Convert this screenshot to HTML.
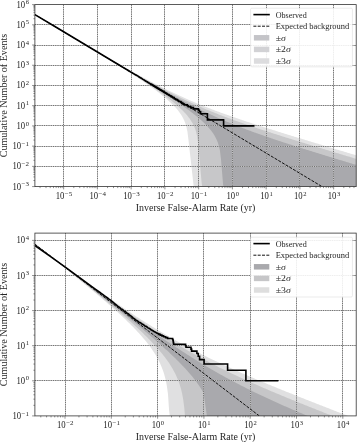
<!DOCTYPE html>
<html><head><meta charset="utf-8"><title>Cumulative Number of Events</title>
<style>html,body{margin:0;padding:0;background:#fff}svg{display:block}</style></head>
<body>
<svg width="357" height="442" viewBox="0 0 357 442" font-family='Liberation Serif, DejaVu Serif, serif'>
<rect width="357" height="442" fill="#fff"/>
<clipPath id="clip1"><rect x="34.9" y="4.6" width="321.3" height="182"/></clipPath>
<g clip-path="url(#clip1)">
<path d="M33.9 13.92 L34.98 14.56 L36.06 15.21 L37.14 15.86 L38.23 16.5 L39.31 17.15 L40.39 17.79 L41.47 18.44 L42.55 19.08 L43.63 19.73 L44.71 20.37 L45.79 21.02 L46.88 21.66 L47.96 22.31 L49.04 22.95 L50.12 23.6 L51.2 24.24 L52.28 24.89 L53.36 25.53 L54.44 26.17 L55.53 26.82 L56.61 27.46 L57.69 28.1 L58.77 28.75 L59.85 29.39 L60.93 30.03 L62.01 30.68 L63.09 31.32 L64.18 31.96 L65.26 32.6 L66.34 33.25 L67.42 33.89 L68.5 34.53 L69.58 35.17 L70.66 35.81 L71.74 36.45 L72.83 37.09 L73.91 37.73 L74.99 38.37 L76.07 39.01 L77.15 39.65 L78.23 40.29 L79.31 40.93 L80.39 41.57 L81.48 42.21 L82.56 42.85 L83.64 43.48 L84.72 44.12 L85.8 44.76 L86.88 45.39 L87.96 46.03 L89.04 46.67 L90.13 47.3 L91.21 47.94 L92.29 48.57 L93.37 49.2 L94.45 49.84 L95.53 50.47 L96.61 51.1 L97.69 51.73 L98.78 52.36 L99.86 53 L100.94 53.62 L102.02 54.25 L103.1 54.88 L104.18 55.51 L105.26 56.14 L106.35 56.76 L107.43 57.39 L108.51 58.01 L109.59 58.64 L110.67 59.26 L111.75 59.88 L112.83 60.51 L113.91 61.13 L115 61.75 L116.08 62.36 L117.16 62.98 L118.24 63.6 L119.32 64.21 L120.4 64.83 L121.48 65.44 L122.56 66.06 L123.65 66.67 L124.73 67.28 L125.81 67.89 L126.89 68.49 L127.97 69.1 L129.05 69.7 L130.13 70.31 L131.21 70.91 L132.3 71.51 L133.38 72.11 L134.46 72.71 L135.54 73.3 L136.62 73.89 L137.7 74.49 L138.78 75.08 L139.86 75.67 L140.95 76.25 L142.03 76.84 L143.11 77.42 L144.19 78 L145.27 78.58 L146.35 79.16 L147.43 79.74 L148.51 80.31 L149.6 80.88 L150.68 81.45 L151.76 82.02 L152.84 82.58 L153.92 83.14 L155 83.7 L156.08 84.26 L157.16 84.82 L158.25 85.37 L159.33 85.92 L160.41 86.47 L161.49 87.01 L162.57 87.56 L163.65 88.1 L164.73 88.63 L165.82 89.17 L166.9 89.7 L167.98 90.23 L169.06 90.75 L170.14 91.28 L171.22 91.8 L172.3 92.32 L173.38 92.83 L174.47 93.34 L175.55 93.85 L176.63 94.36 L177.71 94.86 L178.79 95.36 L179.87 95.86 L180.95 96.35 L182.03 96.84 L183.12 97.33 L184.2 97.82 L185.28 98.3 L186.36 98.78 L187.44 99.26 L188.52 99.73 L189.6 100.2 L190.68 100.67 L191.77 101.13 L192.85 101.59 L193.93 102.05 L195.01 102.51 L196.09 102.96 L197.17 103.41 L198.25 103.86 L199.33 104.3 L200.42 104.74 L201.5 105.18 L202.58 105.62 L203.66 106.05 L204.74 106.48 L205.82 106.91 L206.9 107.34 L207.98 107.76 L209.07 108.18 L210.15 108.6 L211.23 109.01 L212.31 109.43 L213.39 109.84 L214.47 110.25 L215.55 110.65 L216.63 111.06 L217.72 111.46 L218.8 111.86 L219.88 112.26 L220.96 112.65 L222.04 113.04 L223.12 113.44 L224.2 113.83 L225.28 114.21 L226.37 114.6 L227.45 114.98 L228.53 115.36 L229.61 115.74 L230.69 116.12 L231.77 116.5 L232.85 116.88 L233.94 117.25 L235.02 117.62 L236.1 117.99 L237.18 118.36 L238.26 118.73 L239.34 119.1 L240.42 119.46 L241.5 119.82 L242.59 120.19 L243.67 120.55 L244.75 120.91 L245.83 121.27 L246.91 121.63 L247.99 121.98 L249.07 122.34 L250.15 122.69 L251.24 123.05 L252.32 123.4 L253.4 123.75 L254.48 124.1 L255.56 124.45 L256.64 124.8 L257.72 125.15 L258.8 125.5 L259.89 125.84 L260.97 126.19 L262.05 126.53 L263.13 126.88 L264.21 127.22 L265.29 127.56 L266.37 127.91 L267.45 128.25 L268.54 128.59 L269.62 128.93 L270.7 129.27 L271.78 129.61 L272.86 129.95 L273.94 130.29 L275.02 130.62 L276.1 130.96 L277.19 131.3 L278.27 131.63 L279.35 131.97 L280.43 132.31 L281.51 132.64 L282.59 132.97 L283.67 133.31 L284.75 133.64 L285.84 133.98 L286.92 134.31 L288 134.64 L289.08 134.98 L290.16 135.31 L291.24 135.64 L292.32 135.97 L293.41 136.3 L294.49 136.63 L295.57 136.97 L296.65 137.3 L297.73 137.63 L298.81 137.96 L299.89 138.29 L300.97 138.62 L302.06 138.95 L303.14 139.28 L304.22 139.6 L305.3 139.93 L306.38 140.26 L307.46 140.59 L308.54 140.92 L309.62 141.25 L310.71 141.58 L311.79 141.9 L312.87 142.23 L313.95 142.56 L315.03 142.89 L316.11 143.21 L317.19 143.54 L318.27 143.87 L319.36 144.2 L320.44 144.52 L321.52 144.85 L322.6 145.18 L323.68 145.5 L324.76 145.83 L325.84 146.16 L326.92 146.48 L328.01 146.81 L329.09 147.14 L330.17 147.46 L331.25 147.79 L332.33 148.11 L333.41 148.44 L334.49 148.76 L335.57 149.09 L336.66 149.42 L337.74 149.74 L338.82 150.07 L339.9 150.39 L340.98 150.72 L342.06 151.04 L343.14 151.37 L344.22 151.69 L345.31 152.02 L346.39 152.34 L347.47 152.67 L348.55 152.99 L349.63 153.32 L350.71 153.64 L351.79 153.97 L352.87 154.29 L353.96 154.62 L355.04 154.94 L356.12 155.27 L357.2 155.59 L357.2 189.6 L356.12 189.6 L355.04 189.6 L353.96 189.6 L352.87 189.6 L351.79 189.6 L350.71 189.6 L349.63 189.6 L348.55 189.6 L347.47 189.6 L346.39 189.6 L345.31 189.6 L344.22 189.6 L343.14 189.6 L342.06 189.6 L340.98 189.6 L339.9 189.6 L338.82 189.6 L337.74 189.6 L336.66 189.6 L335.57 189.6 L334.49 189.6 L333.41 189.6 L332.33 189.6 L331.25 189.6 L330.17 189.6 L329.09 189.6 L328.01 189.6 L326.92 189.6 L325.84 189.6 L324.76 189.6 L323.68 189.6 L322.6 189.6 L321.52 189.6 L320.44 189.6 L319.36 189.6 L318.27 189.6 L317.19 189.6 L316.11 189.6 L315.03 189.6 L313.95 189.6 L312.87 189.6 L311.79 189.6 L310.71 189.6 L309.62 189.6 L308.54 189.6 L307.46 189.6 L306.38 189.6 L305.3 189.6 L304.22 189.6 L303.14 189.6 L302.06 189.6 L300.97 189.6 L299.89 189.6 L298.81 189.6 L297.73 189.6 L296.65 189.6 L295.57 189.6 L294.49 189.6 L293.41 189.6 L292.32 189.6 L291.24 189.6 L290.16 189.6 L289.08 189.6 L288 189.6 L286.92 189.6 L285.84 189.6 L284.75 189.6 L283.67 189.6 L282.59 189.6 L281.51 189.6 L280.43 189.6 L279.35 189.6 L278.27 189.6 L277.19 189.6 L276.1 189.6 L275.02 189.6 L273.94 189.6 L272.86 189.6 L271.78 189.6 L270.7 189.6 L269.62 189.6 L268.54 189.6 L267.45 189.6 L266.37 189.6 L265.29 189.6 L264.21 189.6 L263.13 189.6 L262.05 189.6 L260.97 189.6 L259.89 189.6 L258.8 189.6 L257.72 189.6 L256.64 189.6 L255.56 189.6 L254.48 189.6 L253.4 189.6 L252.32 189.6 L251.24 189.6 L250.15 189.6 L249.07 189.6 L247.99 189.6 L246.91 189.6 L245.83 189.6 L244.75 189.6 L243.67 189.6 L242.59 189.6 L241.5 189.6 L240.42 189.6 L239.34 189.6 L238.26 189.6 L237.18 189.6 L236.1 189.6 L235.02 189.6 L233.94 189.6 L232.85 189.6 L231.77 189.6 L230.69 189.6 L229.61 189.6 L228.53 189.6 L227.45 189.6 L226.37 189.6 L225.28 189.6 L224.2 189.6 L223.12 189.6 L222.04 189.6 L220.96 189.6 L219.88 189.6 L218.8 189.6 L217.72 189.6 L216.63 189.6 L215.55 189.6 L214.47 189.6 L213.39 189.6 L212.31 189.6 L211.23 189.6 L210.15 189.6 L209.07 189.6 L207.98 189.6 L206.9 189.6 L205.82 189.6 L204.74 189.6 L203.66 189.6 L202.58 189.6 L201.5 189.6 L200.42 189.6 L199.33 189.6 L198.25 189.6 L197.17 189.6 L196.09 189.6 L195.01 189.6 L193.93 189.02 L192.85 179.3 L191.77 169.58 L190.68 159.87 L189.6 150.15 L188.52 140.43 L187.44 131.72 L186.36 126.71 L185.28 123.24 L184.2 120.54 L183.12 118.28 L182.03 116.32 L180.95 114.56 L179.87 112.97 L178.79 111.49 L177.71 110.12 L176.63 108.82 L175.55 107.59 L174.47 106.41 L173.38 105.29 L172.3 104.2 L171.22 103.15 L170.14 102.13 L169.06 101.14 L167.98 100.17 L166.9 99.22 L165.82 98.3 L164.73 97.39 L163.65 96.5 L162.57 95.63 L161.49 94.76 L160.41 93.91 L159.33 93.08 L158.25 92.25 L157.16 91.43 L156.08 90.62 L155 89.82 L153.92 89.03 L152.84 88.25 L151.76 87.47 L150.68 86.7 L149.6 85.94 L148.51 85.18 L147.43 84.42 L146.35 83.67 L145.27 82.93 L144.19 82.19 L143.11 81.46 L142.03 80.72 L140.95 80 L139.86 79.27 L138.78 78.55 L137.7 77.84 L136.62 77.12 L135.54 76.41 L134.46 75.7 L133.38 74.99 L132.3 74.29 L131.21 73.59 L130.13 72.89 L129.05 72.19 L127.97 71.5 L126.89 70.81 L125.81 70.11 L124.73 69.43 L123.65 68.74 L122.56 68.05 L121.48 67.37 L120.4 66.68 L119.32 66 L118.24 65.32 L117.16 64.64 L116.08 63.97 L115 63.29 L113.91 62.61 L112.83 61.94 L111.75 61.27 L110.67 60.59 L109.59 59.92 L108.51 59.25 L107.43 58.58 L106.35 57.91 L105.26 57.25 L104.18 56.58 L103.1 55.91 L102.02 55.25 L100.94 54.58 L99.86 53.92 L98.78 53.25 L97.69 52.59 L96.61 51.93 L95.53 51.27 L94.45 50.6 L93.37 49.94 L92.29 49.28 L91.21 48.62 L90.13 47.96 L89.04 47.3 L87.96 46.65 L86.88 45.99 L85.8 45.33 L84.72 44.67 L83.64 44.02 L82.56 43.36 L81.48 42.7 L80.39 42.05 L79.31 41.39 L78.23 40.73 L77.15 40.08 L76.07 39.42 L74.99 38.77 L73.91 38.12 L72.83 37.46 L71.74 36.81 L70.66 36.15 L69.58 35.5 L68.5 34.85 L67.42 34.19 L66.34 33.54 L65.26 32.89 L64.18 32.24 L63.09 31.58 L62.01 30.93 L60.93 30.28 L59.85 29.63 L58.77 28.98 L57.69 28.32 L56.61 27.67 L55.53 27.02 L54.44 26.37 L53.36 25.72 L52.28 25.07 L51.2 24.42 L50.12 23.77 L49.04 23.12 L47.96 22.47 L46.88 21.81 L45.79 21.16 L44.71 20.51 L43.63 19.86 L42.55 19.21 L41.47 18.56 L40.39 17.91 L39.31 17.26 L38.23 16.61 L37.14 15.97 L36.06 15.32 L34.98 14.67 L33.9 14.02 Z" fill="#00000c" fill-opacity="0.115"/>
<path d="M33.9 13.94 L34.98 14.58 L36.06 15.23 L37.14 15.88 L38.23 16.52 L39.31 17.17 L40.39 17.81 L41.47 18.46 L42.55 19.11 L43.63 19.75 L44.71 20.4 L45.79 21.04 L46.88 21.69 L47.96 22.34 L49.04 22.98 L50.12 23.63 L51.2 24.27 L52.28 24.92 L53.36 25.56 L54.44 26.21 L55.53 26.85 L56.61 27.5 L57.69 28.14 L58.77 28.79 L59.85 29.43 L60.93 30.08 L62.01 30.72 L63.09 31.37 L64.18 32.01 L65.26 32.66 L66.34 33.3 L67.42 33.94 L68.5 34.59 L69.58 35.23 L70.66 35.87 L71.74 36.52 L72.83 37.16 L73.91 37.8 L74.99 38.45 L76.07 39.09 L77.15 39.73 L78.23 40.37 L79.31 41.01 L80.39 41.66 L81.48 42.3 L82.56 42.94 L83.64 43.58 L84.72 44.22 L85.8 44.86 L86.88 45.5 L87.96 46.14 L89.04 46.78 L90.13 47.42 L91.21 48.06 L92.29 48.7 L93.37 49.33 L94.45 49.97 L95.53 50.61 L96.61 51.25 L97.69 51.88 L98.78 52.52 L99.86 53.16 L100.94 53.79 L102.02 54.43 L103.1 55.06 L104.18 55.7 L105.26 56.33 L106.35 56.96 L107.43 57.6 L108.51 58.23 L109.59 58.86 L110.67 59.49 L111.75 60.12 L112.83 60.75 L113.91 61.38 L115 62.01 L116.08 62.64 L117.16 63.26 L118.24 63.89 L119.32 64.52 L120.4 65.14 L121.48 65.76 L122.56 66.39 L123.65 67.01 L124.73 67.63 L125.81 68.25 L126.89 68.87 L127.97 69.49 L129.05 70.11 L130.13 70.72 L131.21 71.34 L132.3 71.96 L133.38 72.57 L134.46 73.18 L135.54 73.79 L136.62 74.4 L137.7 75.01 L138.78 75.62 L139.86 76.22 L140.95 76.83 L142.03 77.43 L143.11 78.03 L144.19 78.63 L145.27 79.23 L146.35 79.83 L147.43 80.43 L148.51 81.02 L149.6 81.61 L150.68 82.2 L151.76 82.79 L152.84 83.38 L153.92 83.96 L155 84.55 L156.08 85.13 L157.16 85.71 L158.25 86.29 L159.33 86.86 L160.41 87.44 L161.49 88.01 L162.57 88.58 L163.65 89.14 L164.73 89.71 L165.82 90.27 L166.9 90.83 L167.98 91.39 L169.06 91.94 L170.14 92.5 L171.22 93.05 L172.3 93.59 L173.38 94.14 L174.47 94.68 L175.55 95.22 L176.63 95.76 L177.71 96.29 L178.79 96.82 L179.87 97.35 L180.95 97.88 L182.03 98.4 L183.12 98.92 L184.2 99.44 L185.28 99.96 L186.36 100.47 L187.44 100.98 L188.52 101.48 L189.6 101.99 L190.68 102.49 L191.77 102.98 L192.85 103.48 L193.93 103.97 L195.01 104.46 L196.09 104.94 L197.17 105.42 L198.25 105.9 L199.33 106.38 L200.42 106.85 L201.5 107.32 L202.58 107.79 L203.66 108.26 L204.74 108.72 L205.82 109.18 L206.9 109.63 L207.98 110.08 L209.07 110.53 L210.15 110.98 L211.23 111.43 L212.31 111.87 L213.39 112.31 L214.47 112.74 L215.55 113.18 L216.63 113.61 L217.72 114.04 L218.8 114.46 L219.88 114.88 L220.96 115.3 L222.04 115.72 L223.12 116.14 L224.2 116.55 L225.28 116.96 L226.37 117.37 L227.45 117.78 L228.53 118.18 L229.61 118.58 L230.69 118.98 L231.77 119.38 L232.85 119.77 L233.94 120.17 L235.02 120.56 L236.1 120.95 L237.18 121.34 L238.26 121.72 L239.34 122.11 L240.42 122.49 L241.5 122.87 L242.59 123.25 L243.67 123.62 L244.75 124 L245.83 124.37 L246.91 124.75 L247.99 125.12 L249.07 125.49 L250.15 125.85 L251.24 126.22 L252.32 126.58 L253.4 126.95 L254.48 127.31 L255.56 127.67 L256.64 128.03 L257.72 128.39 L258.8 128.75 L259.89 129.11 L260.97 129.46 L262.05 129.82 L263.13 130.17 L264.21 130.52 L265.29 130.87 L266.37 131.22 L267.45 131.57 L268.54 131.92 L269.62 132.27 L270.7 132.62 L271.78 132.97 L272.86 133.31 L273.94 133.66 L275.02 134 L276.1 134.34 L277.19 134.69 L278.27 135.03 L279.35 135.37 L280.43 135.71 L281.51 136.05 L282.59 136.39 L283.67 136.73 L284.75 137.07 L285.84 137.41 L286.92 137.75 L288 138.08 L289.08 138.42 L290.16 138.76 L291.24 139.09 L292.32 139.43 L293.41 139.76 L294.49 140.1 L295.57 140.43 L296.65 140.77 L297.73 141.1 L298.81 141.43 L299.89 141.77 L300.97 142.1 L302.06 142.43 L303.14 142.76 L304.22 143.1 L305.3 143.43 L306.38 143.76 L307.46 144.09 L308.54 144.42 L309.62 144.75 L310.71 145.08 L311.79 145.41 L312.87 145.74 L313.95 146.07 L315.03 146.4 L316.11 146.73 L317.19 147.06 L318.27 147.39 L319.36 147.71 L320.44 148.04 L321.52 148.37 L322.6 148.7 L323.68 149.03 L324.76 149.36 L325.84 149.68 L326.92 150.01 L328.01 150.34 L329.09 150.67 L330.17 150.99 L331.25 151.32 L332.33 151.65 L333.41 151.97 L334.49 152.3 L335.57 152.63 L336.66 152.95 L337.74 153.28 L338.82 153.61 L339.9 153.93 L340.98 154.26 L342.06 154.58 L343.14 154.91 L344.22 155.24 L345.31 155.56 L346.39 155.89 L347.47 156.21 L348.55 156.54 L349.63 156.87 L350.71 157.19 L351.79 157.52 L352.87 157.84 L353.96 158.17 L355.04 158.49 L356.12 158.82 L357.2 159.14 L357.2 189.6 L356.12 189.6 L355.04 189.6 L353.96 189.6 L352.87 189.6 L351.79 189.6 L350.71 189.6 L349.63 189.6 L348.55 189.6 L347.47 189.6 L346.39 189.6 L345.31 189.6 L344.22 189.6 L343.14 189.6 L342.06 189.6 L340.98 189.6 L339.9 189.6 L338.82 189.6 L337.74 189.6 L336.66 189.6 L335.57 189.6 L334.49 189.6 L333.41 189.6 L332.33 189.6 L331.25 189.6 L330.17 189.6 L329.09 189.6 L328.01 189.6 L326.92 189.6 L325.84 189.6 L324.76 189.6 L323.68 189.6 L322.6 189.6 L321.52 189.6 L320.44 189.6 L319.36 189.6 L318.27 189.6 L317.19 189.6 L316.11 189.6 L315.03 189.6 L313.95 189.6 L312.87 189.6 L311.79 189.6 L310.71 189.6 L309.62 189.6 L308.54 189.6 L307.46 189.6 L306.38 189.6 L305.3 189.6 L304.22 189.6 L303.14 189.6 L302.06 189.6 L300.97 189.6 L299.89 189.6 L298.81 189.6 L297.73 189.6 L296.65 189.6 L295.57 189.6 L294.49 189.6 L293.41 189.6 L292.32 189.6 L291.24 189.6 L290.16 189.6 L289.08 189.6 L288 189.6 L286.92 189.6 L285.84 189.6 L284.75 189.6 L283.67 189.6 L282.59 189.6 L281.51 189.6 L280.43 189.6 L279.35 189.6 L278.27 189.6 L277.19 189.6 L276.1 189.6 L275.02 189.6 L273.94 189.6 L272.86 189.6 L271.78 189.6 L270.7 189.6 L269.62 189.6 L268.54 189.6 L267.45 189.6 L266.37 189.6 L265.29 189.6 L264.21 189.6 L263.13 189.6 L262.05 189.6 L260.97 189.6 L259.89 189.6 L258.8 189.6 L257.72 189.6 L256.64 189.6 L255.56 189.6 L254.48 189.6 L253.4 189.6 L252.32 189.6 L251.24 189.6 L250.15 189.6 L249.07 189.6 L247.99 189.6 L246.91 189.6 L245.83 189.6 L244.75 189.6 L243.67 189.6 L242.59 189.6 L241.5 189.6 L240.42 189.6 L239.34 189.6 L238.26 189.6 L237.18 189.6 L236.1 189.6 L235.02 189.6 L233.94 189.6 L232.85 189.6 L231.77 189.6 L230.69 189.6 L229.61 189.6 L228.53 189.6 L227.45 189.6 L226.37 189.6 L225.28 189.6 L224.2 189.6 L223.12 189.6 L222.04 189.6 L220.96 189.6 L219.88 189.6 L218.8 189.6 L217.72 189.6 L216.63 189.6 L215.55 189.6 L214.47 189.6 L213.39 189.6 L212.31 189.6 L211.23 189.6 L210.15 189.6 L209.07 189.6 L207.98 189.6 L206.9 189.6 L205.82 189.6 L204.74 189.6 L203.66 189.6 L202.58 189.6 L201.5 181.61 L200.42 169.3 L199.33 156.99 L198.25 144.69 L197.17 136.4 L196.09 131.84 L195.01 128.58 L193.93 125.99 L192.85 123.81 L191.77 121.89 L190.68 120.18 L189.6 118.61 L188.52 117.16 L187.44 115.8 L186.36 114.52 L185.28 113.3 L184.2 112.14 L183.12 111.02 L182.03 109.94 L180.95 108.9 L179.87 107.88 L178.79 106.9 L177.71 105.93 L176.63 104.99 L175.55 104.07 L174.47 103.17 L173.38 102.28 L172.3 101.41 L171.22 100.55 L170.14 99.7 L169.06 98.87 L167.98 98.04 L166.9 97.23 L165.82 96.42 L164.73 95.62 L163.65 94.83 L162.57 94.05 L161.49 93.27 L160.41 92.51 L159.33 91.74 L158.25 90.98 L157.16 90.23 L156.08 89.48 L155 88.74 L153.92 88 L152.84 87.27 L151.76 86.54 L150.68 85.81 L149.6 85.09 L148.51 84.37 L147.43 83.65 L146.35 82.94 L145.27 82.23 L144.19 81.52 L143.11 80.81 L142.03 80.11 L140.95 79.41 L139.86 78.71 L138.78 78.01 L137.7 77.32 L136.62 76.63 L135.54 75.94 L134.46 75.25 L133.38 74.56 L132.3 73.87 L131.21 73.19 L130.13 72.51 L129.05 71.83 L127.97 71.15 L126.89 70.47 L125.81 69.79 L124.73 69.11 L123.65 68.44 L122.56 67.76 L121.48 67.09 L120.4 66.42 L119.32 65.75 L118.24 65.08 L117.16 64.41 L116.08 63.74 L115 63.07 L113.91 62.41 L112.83 61.74 L111.75 61.07 L110.67 60.41 L109.59 59.74 L108.51 59.08 L107.43 58.42 L106.35 57.76 L105.26 57.09 L104.18 56.43 L103.1 55.77 L102.02 55.11 L100.94 54.45 L99.86 53.79 L98.78 53.13 L97.69 52.47 L96.61 51.82 L95.53 51.16 L94.45 50.5 L93.37 49.84 L92.29 49.19 L91.21 48.53 L90.13 47.87 L89.04 47.22 L87.96 46.56 L86.88 45.91 L85.8 45.25 L84.72 44.6 L83.64 43.94 L82.56 43.29 L81.48 42.64 L80.39 41.98 L79.31 41.33 L78.23 40.68 L77.15 40.02 L76.07 39.37 L74.99 38.72 L73.91 38.06 L72.83 37.41 L71.74 36.76 L70.66 36.11 L69.58 35.46 L68.5 34.8 L67.42 34.15 L66.34 33.5 L65.26 32.85 L64.18 32.2 L63.09 31.55 L62.01 30.9 L60.93 30.25 L59.85 29.6 L58.77 28.95 L57.69 28.3 L56.61 27.64 L55.53 26.99 L54.44 26.34 L53.36 25.69 L52.28 25.04 L51.2 24.39 L50.12 23.74 L49.04 23.09 L47.96 22.44 L46.88 21.8 L45.79 21.15 L44.71 20.5 L43.63 19.85 L42.55 19.2 L41.47 18.55 L40.39 17.9 L39.31 17.25 L38.23 16.6 L37.14 15.95 L36.06 15.3 L34.98 14.65 L33.9 14 Z" fill="#00000c" fill-opacity="0.118"/>
<path d="M33.9 13.95 L34.98 14.6 L36.06 15.25 L37.14 15.9 L38.23 16.54 L39.31 17.19 L40.39 17.84 L41.47 18.48 L42.55 19.13 L43.63 19.78 L44.71 20.42 L45.79 21.07 L46.88 21.72 L47.96 22.37 L49.04 23.01 L50.12 23.66 L51.2 24.31 L52.28 24.95 L53.36 25.6 L54.44 26.24 L55.53 26.89 L56.61 27.54 L57.69 28.18 L58.77 28.83 L59.85 29.48 L60.93 30.12 L62.01 30.77 L63.09 31.41 L64.18 32.06 L65.26 32.71 L66.34 33.35 L67.42 34 L68.5 34.64 L69.58 35.29 L70.66 35.94 L71.74 36.58 L72.83 37.23 L73.91 37.87 L74.99 38.52 L76.07 39.16 L77.15 39.81 L78.23 40.45 L79.31 41.1 L80.39 41.74 L81.48 42.39 L82.56 43.03 L83.64 43.67 L84.72 44.32 L85.8 44.96 L86.88 45.61 L87.96 46.25 L89.04 46.89 L90.13 47.54 L91.21 48.18 L92.29 48.82 L93.37 49.47 L94.45 50.11 L95.53 50.75 L96.61 51.39 L97.69 52.04 L98.78 52.68 L99.86 53.32 L100.94 53.96 L102.02 54.6 L103.1 55.24 L104.18 55.89 L105.26 56.53 L106.35 57.17 L107.43 57.81 L108.51 58.45 L109.59 59.09 L110.67 59.73 L111.75 60.36 L112.83 61 L113.91 61.64 L115 62.28 L116.08 62.92 L117.16 63.55 L118.24 64.19 L119.32 64.83 L120.4 65.46 L121.48 66.1 L122.56 66.73 L123.65 67.37 L124.73 68 L125.81 68.64 L126.89 69.27 L127.97 69.9 L129.05 70.53 L130.13 71.16 L131.21 71.8 L132.3 72.43 L133.38 73.06 L134.46 73.68 L135.54 74.31 L136.62 74.94 L137.7 75.57 L138.78 76.19 L139.86 76.82 L140.95 77.44 L142.03 78.07 L143.11 78.69 L144.19 79.31 L145.27 79.93 L146.35 80.55 L147.43 81.17 L148.51 81.79 L149.6 82.41 L150.68 83.03 L151.76 83.64 L152.84 84.26 L153.92 84.87 L155 85.48 L156.08 86.09 L157.16 86.7 L158.25 87.31 L159.33 87.92 L160.41 88.52 L161.49 89.13 L162.57 89.73 L163.65 90.33 L164.73 90.93 L165.82 91.53 L166.9 92.13 L167.98 92.72 L169.06 93.32 L170.14 93.91 L171.22 94.5 L172.3 95.09 L173.38 95.67 L174.47 96.26 L175.55 96.84 L176.63 97.42 L177.71 98 L178.79 98.58 L179.87 99.16 L180.95 99.73 L182.03 100.3 L183.12 100.87 L184.2 101.43 L185.28 102 L186.36 102.56 L187.44 103.12 L188.52 103.68 L189.6 104.23 L190.68 104.78 L191.77 105.33 L192.85 105.88 L193.93 106.42 L195.01 106.97 L196.09 107.51 L197.17 108.04 L198.25 108.58 L199.33 109.11 L200.42 109.64 L201.5 110.16 L202.58 110.68 L203.66 111.2 L204.74 111.72 L205.82 112.24 L206.9 112.75 L207.98 113.26 L209.07 113.76 L210.15 114.26 L211.23 114.76 L212.31 115.26 L213.39 115.75 L214.47 116.24 L215.55 116.73 L216.63 117.22 L217.72 117.7 L218.8 118.18 L219.88 118.65 L220.96 119.13 L222.04 119.59 L223.12 120.06 L224.2 120.53 L225.28 120.99 L226.37 121.44 L227.45 121.9 L228.53 122.35 L229.61 122.8 L230.69 123.25 L231.77 123.69 L232.85 124.13 L233.94 124.57 L235.02 125.01 L236.1 125.44 L237.18 125.87 L238.26 126.3 L239.34 126.72 L240.42 127.15 L241.5 127.56 L242.59 127.98 L243.67 128.4 L244.75 128.81 L245.83 129.22 L246.91 129.63 L247.99 130.03 L249.07 130.44 L250.15 130.84 L251.24 131.24 L252.32 131.64 L253.4 132.03 L254.48 132.42 L255.56 132.81 L256.64 133.2 L257.72 133.59 L258.8 133.98 L259.89 134.36 L260.97 134.74 L262.05 135.12 L263.13 135.5 L264.21 135.88 L265.29 136.25 L266.37 136.62 L267.45 137 L268.54 137.37 L269.62 137.74 L270.7 138.1 L271.78 138.47 L272.86 138.83 L273.94 139.2 L275.02 139.56 L276.1 139.92 L277.19 140.28 L278.27 140.64 L279.35 141 L280.43 141.35 L281.51 141.71 L282.59 142.06 L283.67 142.42 L284.75 142.77 L285.84 143.12 L286.92 143.47 L288 143.82 L289.08 144.17 L290.16 144.52 L291.24 144.86 L292.32 145.21 L293.41 145.56 L294.49 145.9 L295.57 146.25 L296.65 146.59 L297.73 146.93 L298.81 147.27 L299.89 147.62 L300.97 147.96 L302.06 148.3 L303.14 148.64 L304.22 148.98 L305.3 149.31 L306.38 149.65 L307.46 149.99 L308.54 150.33 L309.62 150.66 L310.71 151 L311.79 151.34 L312.87 151.67 L313.95 152.01 L315.03 152.34 L316.11 152.68 L317.19 153.01 L318.27 153.34 L319.36 153.68 L320.44 154.01 L321.52 154.34 L322.6 154.67 L323.68 155.01 L324.76 155.34 L325.84 155.67 L326.92 156 L328.01 156.33 L329.09 156.66 L330.17 156.99 L331.25 157.32 L332.33 157.65 L333.41 157.98 L334.49 158.31 L335.57 158.64 L336.66 158.97 L337.74 159.3 L338.82 159.63 L339.9 159.96 L340.98 160.29 L342.06 160.61 L343.14 160.94 L344.22 161.27 L345.31 161.6 L346.39 161.92 L347.47 162.25 L348.55 162.58 L349.63 162.91 L350.71 163.23 L351.79 163.56 L352.87 163.89 L353.96 164.22 L355.04 164.54 L356.12 164.87 L357.2 165.19 L357.2 189.6 L356.12 189.6 L355.04 189.6 L353.96 189.6 L352.87 189.6 L351.79 189.6 L350.71 189.6 L349.63 189.6 L348.55 189.6 L347.47 189.6 L346.39 189.6 L345.31 189.6 L344.22 189.6 L343.14 189.6 L342.06 189.6 L340.98 189.6 L339.9 189.6 L338.82 189.6 L337.74 189.6 L336.66 189.6 L335.57 189.6 L334.49 189.6 L333.41 189.6 L332.33 189.6 L331.25 189.6 L330.17 189.6 L329.09 189.6 L328.01 189.6 L326.92 189.6 L325.84 189.6 L324.76 189.6 L323.68 189.6 L322.6 189.6 L321.52 189.6 L320.44 189.6 L319.36 189.6 L318.27 189.6 L317.19 189.6 L316.11 189.6 L315.03 189.6 L313.95 189.6 L312.87 189.6 L311.79 189.6 L310.71 189.6 L309.62 189.6 L308.54 189.6 L307.46 189.6 L306.38 189.6 L305.3 189.6 L304.22 189.6 L303.14 189.6 L302.06 189.6 L300.97 189.6 L299.89 189.6 L298.81 189.6 L297.73 189.6 L296.65 189.6 L295.57 189.6 L294.49 189.6 L293.41 189.6 L292.32 189.6 L291.24 189.6 L290.16 189.6 L289.08 189.6 L288 189.6 L286.92 189.6 L285.84 189.6 L284.75 189.6 L283.67 189.6 L282.59 189.6 L281.51 189.6 L280.43 189.6 L279.35 189.6 L278.27 189.6 L277.19 189.6 L276.1 189.6 L275.02 189.6 L273.94 189.6 L272.86 189.6 L271.78 189.6 L270.7 189.6 L269.62 189.6 L268.54 189.6 L267.45 189.6 L266.37 189.6 L265.29 189.6 L264.21 189.6 L263.13 189.6 L262.05 189.6 L260.97 189.6 L259.89 189.6 L258.8 189.6 L257.72 189.6 L256.64 189.6 L255.56 189.6 L254.48 189.6 L253.4 189.6 L252.32 189.6 L251.24 189.6 L250.15 189.6 L249.07 189.6 L247.99 189.6 L246.91 189.6 L245.83 189.6 L244.75 189.6 L243.67 189.6 L242.59 189.6 L241.5 189.6 L240.42 189.6 L239.34 189.6 L238.26 189.6 L237.18 189.6 L236.1 189.6 L235.02 189.6 L233.94 189.6 L232.85 189.6 L231.77 189.6 L230.69 189.6 L229.61 189.6 L228.53 189.6 L227.45 189.6 L226.37 189.6 L225.28 189.6 L224.2 189.6 L223.12 184.95 L222.04 171.99 L220.96 159.03 L219.88 150.31 L218.8 145.63 L217.72 142.32 L216.63 139.7 L215.55 137.49 L214.47 135.57 L213.39 133.84 L212.31 132.27 L211.23 130.81 L210.15 129.45 L209.07 128.16 L207.98 126.94 L206.9 125.77 L205.82 124.65 L204.74 123.57 L203.66 122.52 L202.58 121.51 L201.5 120.52 L200.42 119.56 L199.33 118.61 L198.25 117.69 L197.17 116.79 L196.09 115.9 L195.01 115.02 L193.93 114.17 L192.85 113.32 L191.77 112.48 L190.68 111.66 L189.6 110.84 L188.52 110.03 L187.44 109.24 L186.36 108.45 L185.28 107.66 L184.2 106.89 L183.12 106.12 L182.03 105.35 L180.95 104.59 L179.87 103.84 L178.79 103.09 L177.71 102.35 L176.63 101.61 L175.55 100.88 L174.47 100.15 L173.38 99.42 L172.3 98.7 L171.22 97.98 L170.14 97.26 L169.06 96.54 L167.98 95.83 L166.9 95.13 L165.82 94.42 L164.73 93.72 L163.65 93.02 L162.57 92.32 L161.49 91.62 L160.41 90.93 L159.33 90.23 L158.25 89.54 L157.16 88.85 L156.08 88.17 L155 87.48 L153.92 86.8 L152.84 86.11 L151.76 85.43 L150.68 84.75 L149.6 84.07 L148.51 83.4 L147.43 82.72 L146.35 82.04 L145.27 81.37 L144.19 80.7 L143.11 80.02 L142.03 79.35 L140.95 78.68 L139.86 78.01 L138.78 77.35 L137.7 76.68 L136.62 76.01 L135.54 75.34 L134.46 74.68 L133.38 74.01 L132.3 73.35 L131.21 72.69 L130.13 72.02 L129.05 71.36 L127.97 70.7 L126.89 70.04 L125.81 69.38 L124.73 68.72 L123.65 68.06 L122.56 67.4 L121.48 66.74 L120.4 66.08 L119.32 65.42 L118.24 64.76 L117.16 64.11 L116.08 63.45 L115 62.79 L113.91 62.14 L112.83 61.48 L111.75 60.82 L110.67 60.17 L109.59 59.51 L108.51 58.86 L107.43 58.2 L106.35 57.55 L105.26 56.89 L104.18 56.24 L103.1 55.59 L102.02 54.93 L100.94 54.28 L99.86 53.63 L98.78 52.97 L97.69 52.32 L96.61 51.67 L95.53 51.02 L94.45 50.36 L93.37 49.71 L92.29 49.06 L91.21 48.41 L90.13 47.76 L89.04 47.11 L87.96 46.45 L86.88 45.8 L85.8 45.15 L84.72 44.5 L83.64 43.85 L82.56 43.2 L81.48 42.55 L80.39 41.9 L79.31 41.25 L78.23 40.6 L77.15 39.95 L76.07 39.3 L74.99 38.65 L73.91 38 L72.83 37.35 L71.74 36.7 L70.66 36.05 L69.58 35.4 L68.5 34.75 L67.42 34.1 L66.34 33.45 L65.26 32.8 L64.18 32.15 L63.09 31.5 L62.01 30.85 L60.93 30.2 L59.85 29.55 L58.77 28.91 L57.69 28.26 L56.61 27.61 L55.53 26.96 L54.44 26.31 L53.36 25.66 L52.28 25.01 L51.2 24.36 L50.12 23.71 L49.04 23.07 L47.96 22.42 L46.88 21.77 L45.79 21.12 L44.71 20.47 L43.63 19.82 L42.55 19.17 L41.47 18.53 L40.39 17.88 L39.31 17.23 L38.23 16.58 L37.14 15.93 L36.06 15.28 L34.98 14.64 L33.9 13.99 Z" fill="#00000c" fill-opacity="0.15"/>
<path d="M63.5 4.6 V186.6 M97.5 4.6 V186.6 M131.5 4.6 V186.6 M164.5 4.6 V186.6 M198.5 4.6 V186.6 M232.5 4.6 V186.6 M266.5 4.6 V186.6 M299.5 4.6 V186.6 M333.5 4.6 V186.6 M34.9 166.5 H356.2 M34.9 146.5 H356.2 M34.9 125.5 H356.2 M34.9 105.5 H356.2 M34.9 85.5 H356.2 M34.9 65.5 H356.2 M34.9 45.5 H356.2 M34.9 24.5 H356.2" stroke="#d2d2d2" stroke-width="0.9" fill="none"/>
<path d="M63.5 4.6 V186.6 M97.5 4.6 V186.6 M131.5 4.6 V186.6 M164.5 4.6 V186.6 M198.5 4.6 V186.6 M232.5 4.6 V186.6 M266.5 4.6 V186.6 M299.5 4.6 V186.6 M333.5 4.6 V186.6 M34.9 166.5 H356.2 M34.9 146.5 H356.2 M34.9 125.5 H356.2 M34.9 105.5 H356.2 M34.9 85.5 H356.2 M34.9 65.5 H356.2 M34.9 45.5 H356.2 M34.9 24.5 H356.2" stroke="#606060" stroke-width="0.85" stroke-dasharray="1.25 1.0" fill="none"/>
<path d="M34.9 14.57 L356.2 207.07" stroke="#111" stroke-width="1.0" stroke-dasharray="3.0 1.3" fill="none"/>
<path d="M34.9 14.57 L54.9 26.55 L74.9 38.54 L94.9 50.52 L114.9 62.5 L120 65.56 L121.5 66.45 L123 67.35 L124.5 68.25 L126 69.15 L127.5 70.05 L129 70.95 L130.5 71.85 L132 72.75 L133.5 73.64 L135 74.54 L136.5 75.32 L138 76.09 L139.5 77.2 L141 77.95 L142.5 79.11 L144 79.86 L145.5 80.98 L147 81.73 L148.5 82.75 L150.43 83.88 L150.43 83.95 L150.56 83.95 L150.56 84.03 L150.71 84.03 L150.71 84.1 L150.92 84.1 L150.92 84.18 L150.93 84.18 L150.93 84.25 L151.26 84.25 L151.26 84.33 L151.42 84.33 L151.42 84.41 L151.65 84.41 L151.65 84.48 L151.71 84.48 L151.71 84.56 L151.74 84.56 L151.74 84.64 L151.76 84.64 L151.76 84.72 L151.77 84.72 L151.77 84.8 L152.1 84.8 L152.1 84.89 L152.25 84.89 L152.25 84.97 L152.49 84.97 L152.49 85.05 L152.63 85.05 L152.63 85.14 L152.7 85.14 L152.7 85.22 L152.82 85.22 L152.82 85.31 L152.95 85.31 L152.95 85.39 L153.15 85.39 L153.15 85.48 L153.17 85.48 L153.17 85.57 L153.51 85.57 L153.51 85.66 L153.55 85.66 L153.55 85.75 L153.57 85.75 L153.57 85.84 L153.88 85.84 L153.88 85.93 L154.11 85.93 L154.11 86.02 L154.12 86.02 L154.12 86.12 L154.28 86.12 L154.28 86.21 L154.5 86.21 L154.5 86.31 L154.75 86.31 L154.75 86.41 L154.76 86.41 L154.76 86.5 L154.81 86.5 L154.81 86.6 L155.22 86.6 L155.22 86.7 L155.37 86.7 L155.37 86.8 L155.42 86.8 L155.42 86.91 L155.6 86.91 L155.6 87.01 L155.82 87.01 L155.82 87.12 L156 87.12 L156 87.22 L156.12 87.22 L156.12 87.33 L156.37 87.33 L156.37 87.44 L156.39 87.44 L156.39 87.55 L156.98 87.55 L156.98 87.66 L157.05 87.66 L157.05 87.78 L157.06 87.78 L157.06 87.89 L157.16 87.89 L157.16 88.01 L157.25 88.01 L157.25 88.12 L157.78 88.12 L157.78 88.24 L157.86 88.24 L157.86 88.36 L158.02 88.36 L158.02 88.49 L158.26 88.49 L158.26 88.61 L158.62 88.61 L158.62 88.74 L158.77 88.74 L158.77 88.87 L158.99 88.87 L158.99 89 L159.04 89 L159.04 89.13 L159.15 89.13 L159.15 89.26 L159.74 89.26 L159.74 89.4 L159.8 89.4 L159.8 89.54 L159.87 89.54 L159.87 89.68 L160.42 89.68 L160.42 89.82 L160.46 89.82 L160.46 89.97 L160.66 89.97 L160.66 90.11 L161.17 90.11 L161.17 90.26 L161.28 90.26 L161.28 90.42 L161.39 90.42 L161.39 90.57 L161.75 90.57 L161.75 90.73 L161.87 90.73 L161.87 90.89 L162.38 90.89 L162.38 91.06 L162.79 91.06 L162.79 91.22 L162.79 91.22 L162.79 91.39 L162.86 91.39 L162.86 91.57 L163.57 91.57 L163.57 91.74 L163.86 91.74 L163.86 91.93 L164.02 91.93 L164.02 92.11 L164.27 92.11 L164.27 92.3 L164.29 92.3 L164.29 92.49 L165.29 92.49 L165.29 92.69 L165.39 92.69 L165.39 92.89 L165.64 92.89 L165.64 93.1 L165.73 93.1 L165.73 93.31 L166.25 93.31 L166.25 93.53 L166.94 93.53 L166.94 93.75 L166.99 93.75 L166.99 93.98 L167.09 93.98 L167.09 94.21 L167.63 94.21 L167.63 94.45 L168.63 94.45 L168.63 94.7 L168.69 94.7 L168.69 94.95 L169.11 94.95 L169.11 95.22 L169.5 95.22 L169.5 95.49 L169.59 95.49 L169.59 95.76 L170.68 95.76 L170.68 96.05 L171.02 96.05 L171.02 96.35 L171.11 96.35 L171.11 96.66 L171.99 96.66 L171.99 96.98 L172.51 96.98 L172.51 97.31 L172.81 97.31 L172.81 97.65 L174.18 97.65 L174.18 98.01 L174.25 98.01 L174.25 98.39 L174.31 98.39 L174.31 98.78 L175.38 98.78 L175.38 99.18 L176.02 99.18 L176.02 99.61 L177.13 99.61 L177.13 100.06 L177.7 100.06 L177.7 100.54 L178.37 100.54 L178.37 101.04 L178.68 101.04 L178.68 101.57 L180.63 101.57 L180.63 102.14 L181.41 102.14 L181.41 102.75 L181.84 102.75 L181.84 103.4 L183.17 103.4 L183.17 104.1 L184.33 104.1 L184.33 104.86 L187.33 104.86 L187.33 105.7 L188.29 105.7 L188.29 106.63 L190.75 106.63 L190.75 107.66 L193.4 107.66 L193.4 108.83 L198.4 108.83 L198.4 110.19 L199.4 110.19 L199.4 111.79 L200.6 111.79 L200.6 113.75 L207.4 113.75 L207.4 116.27 L207.4 116.27 L207.4 119.83 L223.6 119.83 L223.6 125.92 L254.5 125.92" stroke="#000" stroke-width="1.6" fill="none" stroke-linejoin="miter" stroke-linecap="butt"/>
</g>
<path d="M40.06 186.6 v1.5 M46 186.6 v1.5 M50.22 186.6 v1.5 M53.49 186.6 v1.5 M56.16 186.6 v1.5 M58.42 186.6 v1.5 M60.38 186.6 v1.5 M62.11 186.6 v1.5 M63.65 186.6 v2.8 M73.81 186.6 v1.5 M79.75 186.6 v1.5 M83.97 186.6 v1.5 M87.24 186.6 v1.5 M89.91 186.6 v1.5 M92.17 186.6 v1.5 M94.13 186.6 v1.5 M95.86 186.6 v1.5 M97.4 186.6 v2.8 M107.56 186.6 v1.5 M113.5 186.6 v1.5 M117.72 186.6 v1.5 M120.99 186.6 v1.5 M123.66 186.6 v1.5 M125.92 186.6 v1.5 M127.88 186.6 v1.5 M129.61 186.6 v1.5 M131.15 186.6 v2.8 M141.31 186.6 v1.5 M147.25 186.6 v1.5 M151.47 186.6 v1.5 M154.74 186.6 v1.5 M157.41 186.6 v1.5 M159.67 186.6 v1.5 M161.63 186.6 v1.5 M163.36 186.6 v1.5 M164.9 186.6 v2.8 M175.06 186.6 v1.5 M181 186.6 v1.5 M185.22 186.6 v1.5 M188.49 186.6 v1.5 M191.16 186.6 v1.5 M193.42 186.6 v1.5 M195.38 186.6 v1.5 M197.11 186.6 v1.5 M198.65 186.6 v2.8 M208.81 186.6 v1.5 M214.75 186.6 v1.5 M218.97 186.6 v1.5 M222.24 186.6 v1.5 M224.91 186.6 v1.5 M227.17 186.6 v1.5 M229.13 186.6 v1.5 M230.86 186.6 v1.5 M232.4 186.6 v2.8 M242.56 186.6 v1.5 M248.5 186.6 v1.5 M252.72 186.6 v1.5 M255.99 186.6 v1.5 M258.66 186.6 v1.5 M260.92 186.6 v1.5 M262.88 186.6 v1.5 M264.61 186.6 v1.5 M266.15 186.6 v2.8 M276.31 186.6 v1.5 M282.25 186.6 v1.5 M286.47 186.6 v1.5 M289.74 186.6 v1.5 M292.41 186.6 v1.5 M294.67 186.6 v1.5 M296.63 186.6 v1.5 M298.36 186.6 v1.5 M299.9 186.6 v2.8 M310.06 186.6 v1.5 M316 186.6 v1.5 M320.22 186.6 v1.5 M323.49 186.6 v1.5 M326.16 186.6 v1.5 M328.42 186.6 v1.5 M330.38 186.6 v1.5 M332.11 186.6 v1.5 M333.65 186.6 v2.8 M343.81 186.6 v1.5 M349.75 186.6 v1.5 M353.97 186.6 v1.5 M34.9 186.58 h-2.8 M34.9 180.49 h-1.5 M34.9 176.93 h-1.5 M34.9 174.41 h-1.5 M34.9 172.45 h-1.5 M34.9 170.85 h-1.5 M34.9 169.49 h-1.5 M34.9 168.32 h-1.5 M34.9 167.29 h-1.5 M34.9 166.36 h-2.8 M34.9 160.27 h-1.5 M34.9 156.71 h-1.5 M34.9 154.19 h-1.5 M34.9 152.23 h-1.5 M34.9 150.63 h-1.5 M34.9 149.27 h-1.5 M34.9 148.1 h-1.5 M34.9 147.07 h-1.5 M34.9 146.14 h-2.8 M34.9 140.05 h-1.5 M34.9 136.49 h-1.5 M34.9 133.97 h-1.5 M34.9 132.01 h-1.5 M34.9 130.41 h-1.5 M34.9 129.05 h-1.5 M34.9 127.88 h-1.5 M34.9 126.85 h-1.5 M34.9 125.92 h-2.8 M34.9 119.83 h-1.5 M34.9 116.27 h-1.5 M34.9 113.75 h-1.5 M34.9 111.79 h-1.5 M34.9 110.19 h-1.5 M34.9 108.83 h-1.5 M34.9 107.66 h-1.5 M34.9 106.63 h-1.5 M34.9 105.7 h-2.8 M34.9 99.61 h-1.5 M34.9 96.05 h-1.5 M34.9 93.53 h-1.5 M34.9 91.57 h-1.5 M34.9 89.97 h-1.5 M34.9 88.61 h-1.5 M34.9 87.44 h-1.5 M34.9 86.41 h-1.5 M34.9 85.48 h-2.8 M34.9 79.39 h-1.5 M34.9 75.83 h-1.5 M34.9 73.31 h-1.5 M34.9 71.35 h-1.5 M34.9 69.75 h-1.5 M34.9 68.39 h-1.5 M34.9 67.22 h-1.5 M34.9 66.19 h-1.5 M34.9 65.26 h-2.8 M34.9 59.17 h-1.5 M34.9 55.61 h-1.5 M34.9 53.09 h-1.5 M34.9 51.13 h-1.5 M34.9 49.53 h-1.5 M34.9 48.17 h-1.5 M34.9 47 h-1.5 M34.9 45.97 h-1.5 M34.9 45.04 h-2.8 M34.9 38.95 h-1.5 M34.9 35.39 h-1.5 M34.9 32.87 h-1.5 M34.9 30.91 h-1.5 M34.9 29.31 h-1.5 M34.9 27.95 h-1.5 M34.9 26.78 h-1.5 M34.9 25.75 h-1.5 M34.9 24.82 h-2.8 M34.9 18.73 h-1.5 M34.9 15.17 h-1.5 M34.9 12.65 h-1.5 M34.9 10.69 h-1.5 M34.9 9.09 h-1.5 M34.9 7.73 h-1.5 M34.9 6.56 h-1.5 M34.9 5.53 h-1.5 M34.9 4.6 h-2.8" stroke="#222" stroke-width="0.5" fill="none"/>
<rect x="34.9" y="4.6" width="321.3" height="182" fill="none" stroke="#333" stroke-width="0.8"/>
<g fill="#262626">
<text x="55.65" y="199.1" font-size="9.6" textLength="8.7" lengthAdjust="spacingAndGlyphs">10</text><text x="64.85" y="195.7" font-size="7.0" textLength="7.4" lengthAdjust="spacingAndGlyphs">−5</text>
<text x="89.4" y="199.1" font-size="9.6" textLength="8.7" lengthAdjust="spacingAndGlyphs">10</text><text x="98.6" y="195.7" font-size="7.0" textLength="7.4" lengthAdjust="spacingAndGlyphs">−4</text>
<text x="123.15" y="199.1" font-size="9.6" textLength="8.7" lengthAdjust="spacingAndGlyphs">10</text><text x="132.35" y="195.7" font-size="7.0" textLength="7.4" lengthAdjust="spacingAndGlyphs">−3</text>
<text x="156.9" y="199.1" font-size="9.6" textLength="8.7" lengthAdjust="spacingAndGlyphs">10</text><text x="166.1" y="195.7" font-size="7.0" textLength="7.4" lengthAdjust="spacingAndGlyphs">−2</text>
<text x="190.65" y="199.1" font-size="9.6" textLength="8.7" lengthAdjust="spacingAndGlyphs">10</text><text x="199.85" y="195.7" font-size="7.0" textLength="7.4" lengthAdjust="spacingAndGlyphs">−1</text>
<text x="226.45" y="199.1" font-size="9.6" textLength="8.7" lengthAdjust="spacingAndGlyphs">10</text><text x="235.65" y="195.7" font-size="7.0" textLength="3.3" lengthAdjust="spacingAndGlyphs">0</text>
<text x="260.2" y="199.1" font-size="9.6" textLength="8.7" lengthAdjust="spacingAndGlyphs">10</text><text x="269.4" y="195.7" font-size="7.0" textLength="3.3" lengthAdjust="spacingAndGlyphs">1</text>
<text x="293.95" y="199.1" font-size="9.6" textLength="8.7" lengthAdjust="spacingAndGlyphs">10</text><text x="303.15" y="195.7" font-size="7.0" textLength="3.3" lengthAdjust="spacingAndGlyphs">2</text>
<text x="327.7" y="199.1" font-size="9.6" textLength="8.7" lengthAdjust="spacingAndGlyphs">10</text><text x="336.9" y="195.7" font-size="7.0" textLength="3.3" lengthAdjust="spacingAndGlyphs">3</text>
<text x="12.4" y="189.58" font-size="9.6" textLength="8.7" lengthAdjust="spacingAndGlyphs">10</text><text x="21.6" y="186.18" font-size="7.0" textLength="7.4" lengthAdjust="spacingAndGlyphs">−3</text>
<text x="12.4" y="169.36" font-size="9.6" textLength="8.7" lengthAdjust="spacingAndGlyphs">10</text><text x="21.6" y="165.96" font-size="7.0" textLength="7.4" lengthAdjust="spacingAndGlyphs">−2</text>
<text x="12.4" y="149.14" font-size="9.6" textLength="8.7" lengthAdjust="spacingAndGlyphs">10</text><text x="21.6" y="145.74" font-size="7.0" textLength="7.4" lengthAdjust="spacingAndGlyphs">−1</text>
<text x="16.5" y="128.92" font-size="9.6" textLength="8.7" lengthAdjust="spacingAndGlyphs">10</text><text x="25.7" y="125.52" font-size="7.0" textLength="3.3" lengthAdjust="spacingAndGlyphs">0</text>
<text x="16.5" y="108.7" font-size="9.6" textLength="8.7" lengthAdjust="spacingAndGlyphs">10</text><text x="25.7" y="105.3" font-size="7.0" textLength="3.3" lengthAdjust="spacingAndGlyphs">1</text>
<text x="16.5" y="88.48" font-size="9.6" textLength="8.7" lengthAdjust="spacingAndGlyphs">10</text><text x="25.7" y="85.08" font-size="7.0" textLength="3.3" lengthAdjust="spacingAndGlyphs">2</text>
<text x="16.5" y="68.26" font-size="9.6" textLength="8.7" lengthAdjust="spacingAndGlyphs">10</text><text x="25.7" y="64.86" font-size="7.0" textLength="3.3" lengthAdjust="spacingAndGlyphs">3</text>
<text x="16.5" y="48.04" font-size="9.6" textLength="8.7" lengthAdjust="spacingAndGlyphs">10</text><text x="25.7" y="44.64" font-size="7.0" textLength="3.3" lengthAdjust="spacingAndGlyphs">4</text>
<text x="16.5" y="27.82" font-size="9.6" textLength="8.7" lengthAdjust="spacingAndGlyphs">10</text><text x="25.7" y="24.42" font-size="7.0" textLength="3.3" lengthAdjust="spacingAndGlyphs">5</text>
<text x="16.5" y="7.6" font-size="9.6" textLength="8.7" lengthAdjust="spacingAndGlyphs">10</text><text x="25.7" y="4.2" font-size="7.0" textLength="3.3" lengthAdjust="spacingAndGlyphs">6</text>
<text x="195.55" y="210.8" text-anchor="middle" font-size="10" textLength="119.6" lengthAdjust="spacingAndGlyphs">Inverse False-Alarm Rate (yr)</text>
<text transform="translate(7.2 95.6) rotate(-90)" text-anchor="middle" font-size="10" textLength="123.5" lengthAdjust="spacingAndGlyphs">Cumulative Number of Events</text>
</g>
<rect x="250.6" y="8.2" width="101.8" height="58.6" rx="1.2" fill="#fff" fill-opacity="0.88" stroke="#d4d4d4" stroke-width="0.5"/>
<path d="M253.4 14.6 H269.8" stroke="#000" stroke-width="1.6"/>
<path d="M253.4 26.2 H269.8" stroke="#111" stroke-width="1.0" stroke-dasharray="3.0 1.3"/>
<rect x="253.9" y="35.05" width="15.4" height="5.5" fill="#c4c4c8"/>
<rect x="253.9" y="46.65" width="15.4" height="5.5" fill="#d2d2d5"/>
<rect x="253.9" y="58.25" width="15.4" height="5.5" fill="#dcdcde"/>
<g fill="#262626" font-size="8.4">
<text x="275.7" y="17.5" textLength="31" lengthAdjust="spacingAndGlyphs">Observed</text>
<text x="275.7" y="29.1" textLength="73.6" lengthAdjust="spacingAndGlyphs">Expected background</text>
<text x="275.7" y="40.7" textLength="10.2" lengthAdjust="spacingAndGlyphs">±<tspan font-style="italic">σ</tspan></text>
<text x="275.7" y="52.3" textLength="15.2" lengthAdjust="spacingAndGlyphs">±2<tspan font-style="italic">σ</tspan></text>
<text x="275.7" y="63.9" textLength="15.2" lengthAdjust="spacingAndGlyphs">±3<tspan font-style="italic">σ</tspan></text>
</g>
<clipPath id="clip2"><rect x="34.9" y="233.1" width="321.3" height="182.8"/></clipPath>
<g clip-path="url(#clip2)">
<path d="M33.9 242.89 L34.98 243.7 L36.06 244.52 L37.14 245.33 L38.23 246.14 L39.31 246.96 L40.39 247.77 L41.47 248.58 L42.55 249.39 L43.63 250.21 L44.71 251.02 L45.79 251.83 L46.88 252.64 L47.96 253.45 L49.04 254.26 L50.12 255.07 L51.2 255.87 L52.28 256.68 L53.36 257.49 L54.44 258.3 L55.53 259.1 L56.61 259.91 L57.69 260.71 L58.77 261.52 L59.85 262.32 L60.93 263.13 L62.01 263.93 L63.09 264.73 L64.18 265.53 L65.26 266.33 L66.34 267.13 L67.42 267.93 L68.5 268.73 L69.58 269.53 L70.66 270.33 L71.74 271.12 L72.83 271.92 L73.91 272.71 L74.99 273.51 L76.07 274.3 L77.15 275.09 L78.23 275.89 L79.31 276.68 L80.39 277.47 L81.48 278.25 L82.56 279.04 L83.64 279.83 L84.72 280.61 L85.8 281.4 L86.88 282.18 L87.96 282.96 L89.04 283.75 L90.13 284.53 L91.21 285.31 L92.29 286.08 L93.37 286.86 L94.45 287.64 L95.53 288.41 L96.61 289.18 L97.69 289.95 L98.78 290.72 L99.86 291.49 L100.94 292.26 L102.02 293.03 L103.1 293.79 L104.18 294.56 L105.26 295.32 L106.35 296.08 L107.43 296.84 L108.51 297.59 L109.59 298.35 L110.67 299.1 L111.75 299.86 L112.83 300.61 L113.91 301.36 L115 302.1 L116.08 302.85 L117.16 303.59 L118.24 304.33 L119.32 305.07 L120.4 305.81 L121.48 306.55 L122.56 307.28 L123.65 308.01 L124.73 308.74 L125.81 309.47 L126.89 310.2 L127.97 310.92 L129.05 311.64 L130.13 312.36 L131.21 313.08 L132.3 313.8 L133.38 314.51 L134.46 315.22 L135.54 315.93 L136.62 316.63 L137.7 317.34 L138.78 318.04 L139.86 318.74 L140.95 319.43 L142.03 320.13 L143.11 320.82 L144.19 321.51 L145.27 322.2 L146.35 322.88 L147.43 323.56 L148.51 324.24 L149.6 324.92 L150.68 325.59 L151.76 326.26 L152.84 326.93 L153.92 327.6 L155 328.26 L156.08 328.92 L157.16 329.58 L158.25 330.23 L159.33 330.89 L160.41 331.54 L161.49 332.18 L162.57 332.83 L163.65 333.47 L164.73 334.11 L165.82 334.74 L166.9 335.37 L167.98 336.01 L169.06 336.63 L170.14 337.26 L171.22 337.88 L172.3 338.5 L173.38 339.11 L174.47 339.73 L175.55 340.34 L176.63 340.94 L177.71 341.55 L178.79 342.15 L179.87 342.75 L180.95 343.35 L182.03 343.94 L183.12 344.53 L184.2 345.12 L185.28 345.71 L186.36 346.29 L187.44 346.87 L188.52 347.45 L189.6 348.02 L190.68 348.59 L191.77 349.16 L192.85 349.73 L193.93 350.29 L195.01 350.85 L196.09 351.41 L197.17 351.97 L198.25 352.52 L199.33 353.08 L200.42 353.62 L201.5 354.17 L202.58 354.72 L203.66 355.26 L204.74 355.8 L205.82 356.33 L206.9 356.87 L207.98 357.4 L209.07 357.93 L210.15 358.46 L211.23 358.98 L212.31 359.51 L213.39 360.03 L214.47 360.55 L215.55 361.06 L216.63 361.58 L217.72 362.09 L218.8 362.6 L219.88 363.11 L220.96 363.62 L222.04 364.12 L223.12 364.62 L224.2 365.13 L225.28 365.62 L226.37 366.12 L227.45 366.62 L228.53 367.11 L229.61 367.6 L230.69 368.09 L231.77 368.58 L232.85 369.07 L233.94 369.55 L235.02 370.04 L236.1 370.52 L237.18 371 L238.26 371.48 L239.34 371.96 L240.42 372.43 L241.5 372.91 L242.59 373.38 L243.67 373.85 L244.75 374.33 L245.83 374.79 L246.91 375.26 L247.99 375.73 L249.07 376.2 L250.15 376.66 L251.24 377.12 L252.32 377.58 L253.4 378.05 L254.48 378.51 L255.56 378.96 L256.64 379.42 L257.72 379.88 L258.8 380.33 L259.89 380.79 L260.97 381.24 L262.05 381.69 L263.13 382.15 L264.21 382.6 L265.29 383.05 L266.37 383.5 L267.45 383.94 L268.54 384.39 L269.62 384.84 L270.7 385.28 L271.78 385.73 L272.86 386.17 L273.94 386.61 L275.02 387.06 L276.1 387.5 L277.19 387.94 L278.27 388.38 L279.35 388.82 L280.43 389.26 L281.51 389.7 L282.59 390.14 L283.67 390.57 L284.75 391.01 L285.84 391.45 L286.92 391.88 L288 392.32 L289.08 392.75 L290.16 393.18 L291.24 393.62 L292.32 394.05 L293.41 394.48 L294.49 394.91 L295.57 395.35 L296.65 395.78 L297.73 396.21 L298.81 396.64 L299.89 397.07 L300.97 397.5 L302.06 397.93 L303.14 398.35 L304.22 398.78 L305.3 399.21 L306.38 399.64 L307.46 400.06 L308.54 400.49 L309.62 400.92 L310.71 401.34 L311.79 401.77 L312.87 402.19 L313.95 402.62 L315.03 403.04 L316.11 403.47 L317.19 403.89 L318.27 404.32 L319.36 404.74 L320.44 405.16 L321.52 405.59 L322.6 406.01 L323.68 406.43 L324.76 406.86 L325.84 407.28 L326.92 407.7 L328.01 408.12 L329.09 408.54 L330.17 408.97 L331.25 409.39 L332.33 409.81 L333.41 410.23 L334.49 410.65 L335.57 411.07 L336.66 411.49 L337.74 411.91 L338.82 412.33 L339.9 412.75 L340.98 413.17 L342.06 413.59 L343.14 414.01 L344.22 414.43 L345.31 414.85 L346.39 415.27 L347.47 415.68 L348.55 416.1 L349.63 416.52 L350.71 416.94 L351.79 417.36 L352.87 417.78 L353.96 418.19 L355.04 418.61 L356.12 419.03 L357.2 419.45 L357.2 418.9 L356.12 418.9 L355.04 418.9 L353.96 418.9 L352.87 418.9 L351.79 418.9 L350.71 418.9 L349.63 418.9 L348.55 418.9 L347.47 418.9 L346.39 418.9 L345.31 418.9 L344.22 418.9 L343.14 418.9 L342.06 418.9 L340.98 418.9 L339.9 418.9 L338.82 418.9 L337.74 418.9 L336.66 418.9 L335.57 418.9 L334.49 418.9 L333.41 418.9 L332.33 418.9 L331.25 418.9 L330.17 418.9 L329.09 418.9 L328.01 418.9 L326.92 418.9 L325.84 418.9 L324.76 418.9 L323.68 418.9 L322.6 418.9 L321.52 418.9 L320.44 418.9 L319.36 418.9 L318.27 418.9 L317.19 418.9 L316.11 418.9 L315.03 418.9 L313.95 418.9 L312.87 418.9 L311.79 418.9 L310.71 418.9 L309.62 418.9 L308.54 418.9 L307.46 418.9 L306.38 418.9 L305.3 418.9 L304.22 418.9 L303.14 418.9 L302.06 418.9 L300.97 418.9 L299.89 418.9 L298.81 418.9 L297.73 418.9 L296.65 418.9 L295.57 418.9 L294.49 418.9 L293.41 418.9 L292.32 418.9 L291.24 418.9 L290.16 418.9 L289.08 418.9 L288 418.9 L286.92 418.9 L285.84 418.9 L284.75 418.9 L283.67 418.9 L282.59 418.9 L281.51 418.9 L280.43 418.9 L279.35 418.9 L278.27 418.9 L277.19 418.9 L276.1 418.9 L275.02 418.9 L273.94 418.9 L272.86 418.9 L271.78 418.9 L270.7 418.9 L269.62 418.9 L268.54 418.9 L267.45 418.9 L266.37 418.9 L265.29 418.9 L264.21 418.9 L263.13 418.9 L262.05 418.9 L260.97 418.9 L259.89 418.9 L258.8 418.9 L257.72 418.9 L256.64 418.9 L255.56 418.9 L254.48 418.9 L253.4 418.9 L252.32 418.9 L251.24 418.9 L250.15 418.9 L249.07 418.9 L247.99 418.9 L246.91 418.9 L245.83 418.9 L244.75 418.9 L243.67 418.9 L242.59 418.9 L241.5 418.9 L240.42 418.9 L239.34 418.9 L238.26 418.9 L237.18 418.9 L236.1 418.9 L235.02 418.9 L233.94 418.9 L232.85 418.9 L231.77 418.9 L230.69 418.9 L229.61 418.9 L228.53 418.9 L227.45 418.9 L226.37 418.9 L225.28 418.9 L224.2 418.9 L223.12 418.9 L222.04 418.9 L220.96 418.9 L219.88 418.9 L218.8 418.9 L217.72 418.9 L216.63 418.9 L215.55 418.9 L214.47 418.9 L213.39 418.9 L212.31 418.9 L211.23 418.9 L210.15 418.9 L209.07 418.9 L207.98 418.9 L206.9 418.9 L205.82 418.9 L204.74 418.9 L203.66 418.9 L202.58 418.9 L201.5 418.9 L200.42 418.9 L199.33 418.9 L198.25 418.9 L197.17 418.9 L196.09 418.9 L195.01 418.9 L193.93 418.9 L192.85 418.9 L191.77 418.9 L190.68 418.9 L189.6 418.9 L188.52 418.9 L187.44 418.9 L186.36 418.9 L185.28 418.9 L184.2 418.9 L183.12 418.9 L182.03 418.9 L180.95 418.9 L179.87 418.9 L178.79 418.9 L177.71 418.9 L176.63 418.9 L175.55 418.9 L174.47 418.9 L173.38 418.9 L172.3 418.9 L171.22 418.9 L170.14 418.9 L169.06 410.17 L167.98 394.31 L166.9 386.22 L165.82 380.6 L164.73 376.22 L163.65 372.59 L162.57 369.45 L161.49 366.67 L160.41 364.15 L159.33 361.84 L158.25 359.7 L157.16 357.69 L156.08 355.8 L155 354 L153.92 352.28 L152.84 350.63 L151.76 349.05 L150.68 347.52 L149.6 346.04 L148.51 344.6 L147.43 343.2 L146.35 341.84 L145.27 340.51 L144.19 339.21 L143.11 337.93 L142.03 336.68 L140.95 335.45 L139.86 334.24 L138.78 333.05 L137.7 331.88 L136.62 330.72 L135.54 329.58 L134.46 328.46 L133.38 327.35 L132.3 326.25 L131.21 325.16 L130.13 324.08 L129.05 323.02 L127.97 321.96 L126.89 320.91 L125.81 319.87 L124.73 318.85 L123.65 317.82 L122.56 316.81 L121.48 315.8 L120.4 314.8 L119.32 313.81 L118.24 312.82 L117.16 311.84 L116.08 310.86 L115 309.89 L113.91 308.93 L112.83 307.97 L111.75 307.01 L110.67 306.06 L109.59 305.11 L108.51 304.17 L107.43 303.23 L106.35 302.29 L105.26 301.36 L104.18 300.43 L103.1 299.51 L102.02 298.59 L100.94 297.67 L99.86 296.75 L98.78 295.84 L97.69 294.93 L96.61 294.02 L95.53 293.12 L94.45 292.21 L93.37 291.31 L92.29 290.42 L91.21 289.52 L90.13 288.63 L89.04 287.74 L87.96 286.85 L86.88 285.96 L85.8 285.07 L84.72 284.19 L83.64 283.31 L82.56 282.42 L81.48 281.55 L80.39 280.67 L79.31 279.79 L78.23 278.92 L77.15 278.04 L76.07 277.17 L74.99 276.3 L73.91 275.43 L72.83 274.56 L71.74 273.7 L70.66 272.83 L69.58 271.97 L68.5 271.1 L67.42 270.24 L66.34 269.38 L65.26 268.52 L64.18 267.66 L63.09 266.8 L62.01 265.94 L60.93 265.09 L59.85 264.23 L58.77 263.37 L57.69 262.52 L56.61 261.67 L55.53 260.81 L54.44 259.96 L53.36 259.11 L52.28 258.26 L51.2 257.41 L50.12 256.56 L49.04 255.71 L47.96 254.86 L46.88 254.01 L45.79 253.17 L44.71 252.32 L43.63 251.47 L42.55 250.63 L41.47 249.78 L40.39 248.94 L39.31 248.09 L38.23 247.25 L37.14 246.41 L36.06 245.56 L34.98 244.72 L33.9 243.88 Z" fill="#00000c" fill-opacity="0.12"/>
<path d="M33.9 243.05 L34.98 243.86 L36.06 244.68 L37.14 245.5 L38.23 246.32 L39.31 247.14 L40.39 247.96 L41.47 248.77 L42.55 249.59 L43.63 250.41 L44.71 251.22 L45.79 252.04 L46.88 252.86 L47.96 253.67 L49.04 254.49 L50.12 255.3 L51.2 256.12 L52.28 256.93 L53.36 257.74 L54.44 258.56 L55.53 259.37 L56.61 260.18 L57.69 261 L58.77 261.81 L59.85 262.62 L60.93 263.43 L62.01 264.24 L63.09 265.05 L64.18 265.86 L65.26 266.67 L66.34 267.48 L67.42 268.29 L68.5 269.1 L69.58 269.9 L70.66 270.71 L71.74 271.52 L72.83 272.32 L73.91 273.13 L74.99 273.93 L76.07 274.74 L77.15 275.54 L78.23 276.34 L79.31 277.15 L80.39 277.95 L81.48 278.75 L82.56 279.55 L83.64 280.35 L84.72 281.15 L85.8 281.95 L86.88 282.74 L87.96 283.54 L89.04 284.33 L90.13 285.13 L91.21 285.92 L92.29 286.72 L93.37 287.51 L94.45 288.3 L95.53 289.09 L96.61 289.88 L97.69 290.67 L98.78 291.46 L99.86 292.24 L100.94 293.03 L102.02 293.81 L103.1 294.6 L104.18 295.38 L105.26 296.16 L106.35 296.94 L107.43 297.72 L108.51 298.5 L109.59 299.28 L110.67 300.05 L111.75 300.82 L112.83 301.6 L113.91 302.37 L115 303.14 L116.08 303.91 L117.16 304.68 L118.24 305.44 L119.32 306.21 L120.4 306.97 L121.48 307.73 L122.56 308.49 L123.65 309.25 L124.73 310.01 L125.81 310.76 L126.89 311.52 L127.97 312.27 L129.05 313.02 L130.13 313.77 L131.21 314.52 L132.3 315.26 L133.38 316.01 L134.46 316.75 L135.54 317.49 L136.62 318.23 L137.7 318.96 L138.78 319.7 L139.86 320.43 L140.95 321.16 L142.03 321.89 L143.11 322.61 L144.19 323.34 L145.27 324.06 L146.35 324.78 L147.43 325.5 L148.51 326.21 L149.6 326.92 L150.68 327.63 L151.76 328.34 L152.84 329.05 L153.92 329.75 L155 330.45 L156.08 331.15 L157.16 331.85 L158.25 332.54 L159.33 333.24 L160.41 333.92 L161.49 334.61 L162.57 335.3 L163.65 335.98 L164.73 336.66 L165.82 337.33 L166.9 338.01 L167.98 338.68 L169.06 339.35 L170.14 340.01 L171.22 340.68 L172.3 341.34 L173.38 341.99 L174.47 342.65 L175.55 343.3 L176.63 343.95 L177.71 344.6 L178.79 345.24 L179.87 345.88 L180.95 346.52 L182.03 347.16 L183.12 347.79 L184.2 348.42 L185.28 349.05 L186.36 349.67 L187.44 350.29 L188.52 350.91 L189.6 351.53 L190.68 352.14 L191.77 352.75 L192.85 353.36 L193.93 353.96 L195.01 354.57 L196.09 355.17 L197.17 355.76 L198.25 356.36 L199.33 356.95 L200.42 357.54 L201.5 358.12 L202.58 358.7 L203.66 359.28 L204.74 359.86 L205.82 360.44 L206.9 361.01 L207.98 361.58 L209.07 362.14 L210.15 362.71 L211.23 363.27 L212.31 363.83 L213.39 364.39 L214.47 364.94 L215.55 365.49 L216.63 366.04 L217.72 366.59 L218.8 367.13 L219.88 367.67 L220.96 368.21 L222.04 368.75 L223.12 369.28 L224.2 369.81 L225.28 370.34 L226.37 370.87 L227.45 371.4 L228.53 371.92 L229.61 372.44 L230.69 372.96 L231.77 373.48 L232.85 373.99 L233.94 374.51 L235.02 375.02 L236.1 375.53 L237.18 376.03 L238.26 376.54 L239.34 377.04 L240.42 377.54 L241.5 378.04 L242.59 378.54 L243.67 379.03 L244.75 379.53 L245.83 380.02 L246.91 380.51 L247.99 381 L249.07 381.48 L250.15 381.97 L251.24 382.45 L252.32 382.94 L253.4 383.42 L254.48 383.9 L255.56 384.37 L256.64 384.85 L257.72 385.32 L258.8 385.8 L259.89 386.27 L260.97 386.74 L262.05 387.21 L263.13 387.68 L264.21 388.14 L265.29 388.61 L266.37 389.07 L267.45 389.54 L268.54 390 L269.62 390.46 L270.7 390.92 L271.78 391.38 L272.86 391.84 L273.94 392.29 L275.02 392.75 L276.1 393.2 L277.19 393.66 L278.27 394.11 L279.35 394.56 L280.43 395.01 L281.51 395.46 L282.59 395.91 L283.67 396.36 L284.75 396.8 L285.84 397.25 L286.92 397.7 L288 398.14 L289.08 398.59 L290.16 399.03 L291.24 399.47 L292.32 399.91 L293.41 400.35 L294.49 400.79 L295.57 401.23 L296.65 401.67 L297.73 402.11 L298.81 402.55 L299.89 402.99 L300.97 403.42 L302.06 403.86 L303.14 404.3 L304.22 404.73 L305.3 405.16 L306.38 405.6 L307.46 406.03 L308.54 406.46 L309.62 406.9 L310.71 407.33 L311.79 407.76 L312.87 408.19 L313.95 408.62 L315.03 409.05 L316.11 409.48 L317.19 409.91 L318.27 410.34 L319.36 410.77 L320.44 411.2 L321.52 411.62 L322.6 412.05 L323.68 412.48 L324.76 412.91 L325.84 413.33 L326.92 413.76 L328.01 414.18 L329.09 414.61 L330.17 415.03 L331.25 415.46 L332.33 415.88 L333.41 416.31 L334.49 416.73 L335.57 417.16 L336.66 417.58 L337.74 418 L338.82 418.43 L339.9 418.85 L340.98 419.27 L342.06 419.69 L343.14 420.11 L344.22 420.54 L345.31 420.96 L346.39 421.38 L347.47 421.8 L348.55 422.22 L349.63 422.64 L350.71 423.06 L351.79 423.48 L352.87 423.9 L353.96 424.32 L355.04 424.74 L356.12 425.16 L357.2 425.58 L357.2 418.9 L356.12 418.9 L355.04 418.9 L353.96 418.9 L352.87 418.9 L351.79 418.9 L350.71 418.9 L349.63 418.9 L348.55 418.9 L347.47 418.9 L346.39 418.9 L345.31 418.9 L344.22 418.9 L343.14 418.9 L342.06 418.9 L340.98 418.9 L339.9 418.9 L338.82 418.9 L337.74 418.9 L336.66 418.9 L335.57 418.9 L334.49 418.9 L333.41 418.9 L332.33 418.9 L331.25 418.9 L330.17 418.9 L329.09 418.9 L328.01 418.9 L326.92 418.9 L325.84 418.9 L324.76 418.9 L323.68 418.9 L322.6 418.9 L321.52 418.9 L320.44 418.9 L319.36 418.9 L318.27 418.9 L317.19 418.9 L316.11 418.9 L315.03 418.9 L313.95 418.9 L312.87 418.9 L311.79 418.9 L310.71 418.9 L309.62 418.9 L308.54 418.9 L307.46 418.9 L306.38 418.9 L305.3 418.9 L304.22 418.9 L303.14 418.9 L302.06 418.9 L300.97 418.9 L299.89 418.9 L298.81 418.9 L297.73 418.9 L296.65 418.9 L295.57 418.9 L294.49 418.9 L293.41 418.9 L292.32 418.9 L291.24 418.9 L290.16 418.9 L289.08 418.9 L288 418.9 L286.92 418.9 L285.84 418.9 L284.75 418.9 L283.67 418.9 L282.59 418.9 L281.51 418.9 L280.43 418.9 L279.35 418.9 L278.27 418.9 L277.19 418.9 L276.1 418.9 L275.02 418.9 L273.94 418.9 L272.86 418.9 L271.78 418.9 L270.7 418.9 L269.62 418.9 L268.54 418.9 L267.45 418.9 L266.37 418.9 L265.29 418.9 L264.21 418.9 L263.13 418.9 L262.05 418.9 L260.97 418.9 L259.89 418.9 L258.8 418.9 L257.72 418.9 L256.64 418.9 L255.56 418.9 L254.48 418.9 L253.4 418.9 L252.32 418.9 L251.24 418.9 L250.15 418.9 L249.07 418.9 L247.99 418.9 L246.91 418.9 L245.83 418.9 L244.75 418.9 L243.67 418.9 L242.59 418.9 L241.5 418.9 L240.42 418.9 L239.34 418.9 L238.26 418.9 L237.18 418.9 L236.1 418.9 L235.02 418.9 L233.94 418.9 L232.85 418.9 L231.77 418.9 L230.69 418.9 L229.61 418.9 L228.53 418.9 L227.45 418.9 L226.37 418.9 L225.28 418.9 L224.2 418.9 L223.12 418.9 L222.04 418.9 L220.96 418.9 L219.88 418.9 L218.8 418.9 L217.72 418.9 L216.63 418.9 L215.55 418.9 L214.47 418.9 L213.39 418.9 L212.31 418.9 L211.23 418.9 L210.15 418.9 L209.07 418.9 L207.98 418.9 L206.9 418.9 L205.82 418.9 L204.74 418.9 L203.66 418.9 L202.58 418.9 L201.5 418.9 L200.42 418.9 L199.33 418.9 L198.25 418.9 L197.17 418.9 L196.09 418.9 L195.01 418.9 L193.93 418.9 L192.85 418.9 L191.77 418.9 L190.68 418.9 L189.6 418.9 L188.52 418.9 L187.44 418.9 L186.36 418.9 L185.28 418.9 L184.2 407.34 L183.12 399 L182.03 393.28 L180.95 388.84 L179.87 385.17 L178.79 382 L177.71 379.2 L176.63 376.67 L175.55 374.35 L174.47 372.19 L173.38 370.18 L172.3 368.28 L171.22 366.47 L170.14 364.75 L169.06 363.1 L167.98 361.51 L166.9 359.98 L165.82 358.5 L164.73 357.06 L163.65 355.66 L162.57 354.29 L161.49 352.96 L160.41 351.65 L159.33 350.37 L158.25 349.12 L157.16 347.89 L156.08 346.68 L155 345.49 L153.92 344.32 L152.84 343.16 L151.76 342.02 L150.68 340.89 L149.6 339.78 L148.51 338.68 L147.43 337.59 L146.35 336.51 L145.27 335.45 L144.19 334.39 L143.11 333.34 L142.03 332.3 L140.95 331.27 L139.86 330.25 L138.78 329.24 L137.7 328.23 L136.62 327.23 L135.54 326.23 L134.46 325.25 L133.38 324.26 L132.3 323.29 L131.21 322.32 L130.13 321.35 L129.05 320.39 L127.97 319.43 L126.89 318.48 L125.81 317.54 L124.73 316.59 L123.65 315.65 L122.56 314.72 L121.48 313.78 L120.4 312.86 L119.32 311.93 L118.24 311.01 L117.16 310.09 L116.08 309.17 L115 308.26 L113.91 307.35 L112.83 306.44 L111.75 305.54 L110.67 304.63 L109.59 303.73 L108.51 302.84 L107.43 301.94 L106.35 301.05 L105.26 300.15 L104.18 299.26 L103.1 298.38 L102.02 297.49 L100.94 296.61 L99.86 295.72 L98.78 294.84 L97.69 293.96 L96.61 293.09 L95.53 292.21 L94.45 291.34 L93.37 290.46 L92.29 289.59 L91.21 288.72 L90.13 287.85 L89.04 286.98 L87.96 286.11 L86.88 285.25 L85.8 284.38 L84.72 283.52 L83.64 282.66 L82.56 281.8 L81.48 280.94 L80.39 280.08 L79.31 279.22 L78.23 278.36 L77.15 277.5 L76.07 276.65 L74.99 275.79 L73.91 274.94 L72.83 274.08 L71.74 273.23 L70.66 272.38 L69.58 271.53 L68.5 270.67 L67.42 269.82 L66.34 268.97 L65.26 268.13 L64.18 267.28 L63.09 266.43 L62.01 265.58 L60.93 264.74 L59.85 263.89 L58.77 263.04 L57.69 262.2 L56.61 261.35 L55.53 260.51 L54.44 259.67 L53.36 258.82 L52.28 257.98 L51.2 257.14 L50.12 256.29 L49.04 255.45 L47.96 254.61 L46.88 253.77 L45.79 252.93 L44.71 252.09 L43.63 251.25 L42.55 250.41 L41.47 249.57 L40.39 248.73 L39.31 247.89 L38.23 247.06 L37.14 246.22 L36.06 245.38 L34.98 244.54 L33.9 243.71 Z" fill="#00000c" fill-opacity="0.114"/>
<path d="M33.9 243.2 L34.98 244.03 L36.06 244.85 L37.14 245.67 L38.23 246.5 L39.31 247.32 L40.39 248.14 L41.47 248.96 L42.55 249.79 L43.63 250.61 L44.71 251.43 L45.79 252.25 L46.88 253.07 L47.96 253.9 L49.04 254.72 L50.12 255.54 L51.2 256.36 L52.28 257.18 L53.36 258 L54.44 258.82 L55.53 259.64 L56.61 260.46 L57.69 261.28 L58.77 262.1 L59.85 262.92 L60.93 263.74 L62.01 264.56 L63.09 265.38 L64.18 266.2 L65.26 267.01 L66.34 267.83 L67.42 268.65 L68.5 269.47 L69.58 270.29 L70.66 271.1 L71.74 271.92 L72.83 272.74 L73.91 273.55 L74.99 274.37 L76.07 275.18 L77.15 276 L78.23 276.81 L79.31 277.63 L80.39 278.44 L81.48 279.25 L82.56 280.07 L83.64 280.88 L84.72 281.69 L85.8 282.51 L86.88 283.32 L87.96 284.13 L89.04 284.94 L90.13 285.75 L91.21 286.56 L92.29 287.37 L93.37 288.18 L94.45 288.99 L95.53 289.8 L96.61 290.6 L97.69 291.41 L98.78 292.22 L99.86 293.02 L100.94 293.83 L102.02 294.63 L103.1 295.44 L104.18 296.24 L105.26 297.04 L106.35 297.85 L107.43 298.65 L108.51 299.45 L109.59 300.25 L110.67 301.05 L111.75 301.85 L112.83 302.65 L113.91 303.44 L115 304.24 L116.08 305.04 L117.16 305.83 L118.24 306.63 L119.32 307.42 L120.4 308.21 L121.48 309 L122.56 309.8 L123.65 310.59 L124.73 311.37 L125.81 312.16 L126.89 312.95 L127.97 313.74 L129.05 314.52 L130.13 315.3 L131.21 316.09 L132.3 316.87 L133.38 317.65 L134.46 318.43 L135.54 319.21 L136.62 319.98 L137.7 320.76 L138.78 321.53 L139.86 322.31 L140.95 323.08 L142.03 323.85 L143.11 324.62 L144.19 325.39 L145.27 326.16 L146.35 326.92 L147.43 327.68 L148.51 328.45 L149.6 329.21 L150.68 329.97 L151.76 330.72 L152.84 331.48 L153.92 332.24 L155 332.99 L156.08 333.74 L157.16 334.49 L158.25 335.24 L159.33 335.98 L160.41 336.73 L161.49 337.47 L162.57 338.21 L163.65 338.95 L164.73 339.69 L165.82 340.42 L166.9 341.15 L167.98 341.88 L169.06 342.61 L170.14 343.34 L171.22 344.06 L172.3 344.79 L173.38 345.51 L174.47 346.22 L175.55 346.94 L176.63 347.65 L177.71 348.37 L178.79 349.08 L179.87 349.78 L180.95 350.49 L182.03 351.19 L183.12 351.89 L184.2 352.59 L185.28 353.28 L186.36 353.97 L187.44 354.66 L188.52 355.35 L189.6 356.04 L190.68 356.72 L191.77 357.4 L192.85 358.08 L193.93 358.75 L195.01 359.42 L196.09 360.09 L197.17 360.76 L198.25 361.42 L199.33 362.08 L200.42 362.74 L201.5 363.4 L202.58 364.05 L203.66 364.7 L204.74 365.35 L205.82 366 L206.9 366.64 L207.98 367.28 L209.07 367.91 L210.15 368.55 L211.23 369.18 L212.31 369.81 L213.39 370.43 L214.47 371.06 L215.55 371.68 L216.63 372.29 L217.72 372.91 L218.8 373.52 L219.88 374.13 L220.96 374.73 L222.04 375.34 L223.12 375.94 L224.2 376.53 L225.28 377.13 L226.37 377.72 L227.45 378.31 L228.53 378.9 L229.61 379.48 L230.69 380.06 L231.77 380.64 L232.85 381.21 L233.94 381.79 L235.02 382.36 L236.1 382.93 L237.18 383.49 L238.26 384.05 L239.34 384.61 L240.42 385.17 L241.5 385.72 L242.59 386.28 L243.67 386.83 L244.75 387.37 L245.83 387.92 L246.91 388.46 L247.99 389 L249.07 389.54 L250.15 390.07 L251.24 390.61 L252.32 391.14 L253.4 391.67 L254.48 392.19 L255.56 392.72 L256.64 393.24 L257.72 393.76 L258.8 394.28 L259.89 394.79 L260.97 395.31 L262.05 395.82 L263.13 396.33 L264.21 396.83 L265.29 397.34 L266.37 397.84 L267.45 398.34 L268.54 398.84 L269.62 399.34 L270.7 399.84 L271.78 400.33 L272.86 400.82 L273.94 401.32 L275.02 401.8 L276.1 402.29 L277.19 402.78 L278.27 403.26 L279.35 403.75 L280.43 404.23 L281.51 404.71 L282.59 405.18 L283.67 405.66 L284.75 406.14 L285.84 406.61 L286.92 407.08 L288 407.55 L289.08 408.02 L290.16 408.49 L291.24 408.96 L292.32 409.43 L293.41 409.89 L294.49 410.35 L295.57 410.82 L296.65 411.28 L297.73 411.74 L298.81 412.2 L299.89 412.65 L300.97 413.11 L302.06 413.57 L303.14 414.02 L304.22 414.48 L305.3 414.93 L306.38 415.38 L307.46 415.83 L308.54 416.28 L309.62 416.73 L310.71 417.18 L311.79 417.63 L312.87 418.07 L313.95 418.52 L315.03 418.96 L316.11 419.41 L317.19 419.85 L318.27 420.29 L319.36 420.74 L320.44 421.18 L321.52 421.62 L322.6 422.06 L323.68 422.5 L324.76 422.94 L325.84 423.37 L326.92 423.81 L328.01 424.25 L329.09 424.69 L330.17 425.12 L331.25 425.56 L332.33 425.99 L333.41 426.42 L334.49 426.86 L335.57 427.29 L336.66 427.72 L337.74 428.16 L338.82 428.59 L339.9 429.02 L340.98 429.45 L342.06 429.88 L343.14 430.31 L344.22 430.74 L345.31 431.17 L346.39 431.6 L347.47 432.03 L348.55 432.45 L349.63 432.88 L350.71 433.31 L351.79 433.73 L352.87 434.16 L353.96 434.59 L355.04 435.01 L356.12 435.44 L357.2 435.86 L357.2 418.9 L356.12 418.9 L355.04 418.9 L353.96 418.9 L352.87 418.9 L351.79 418.9 L350.71 418.9 L349.63 418.9 L348.55 418.9 L347.47 418.9 L346.39 418.9 L345.31 418.9 L344.22 418.9 L343.14 418.9 L342.06 418.9 L340.98 418.9 L339.9 418.9 L338.82 418.9 L337.74 418.9 L336.66 418.9 L335.57 418.9 L334.49 418.9 L333.41 418.9 L332.33 418.9 L331.25 418.9 L330.17 418.9 L329.09 418.9 L328.01 418.9 L326.92 418.9 L325.84 418.9 L324.76 418.9 L323.68 418.9 L322.6 418.9 L321.52 418.9 L320.44 418.9 L319.36 418.9 L318.27 418.9 L317.19 418.9 L316.11 418.9 L315.03 418.9 L313.95 418.9 L312.87 418.9 L311.79 418.9 L310.71 418.9 L309.62 418.9 L308.54 418.9 L307.46 418.9 L306.38 418.9 L305.3 418.9 L304.22 418.9 L303.14 418.9 L302.06 418.9 L300.97 418.9 L299.89 418.9 L298.81 418.9 L297.73 418.9 L296.65 418.9 L295.57 418.9 L294.49 418.9 L293.41 418.9 L292.32 418.9 L291.24 418.9 L290.16 418.9 L289.08 418.9 L288 418.9 L286.92 418.9 L285.84 418.9 L284.75 418.9 L283.67 418.9 L282.59 418.9 L281.51 418.9 L280.43 418.9 L279.35 418.9 L278.27 418.9 L277.19 418.9 L276.1 418.9 L275.02 418.9 L273.94 418.9 L272.86 418.9 L271.78 418.9 L270.7 418.9 L269.62 418.9 L268.54 418.9 L267.45 418.9 L266.37 418.9 L265.29 418.9 L264.21 418.9 L263.13 418.9 L262.05 418.9 L260.97 418.9 L259.89 418.9 L258.8 418.9 L257.72 418.9 L256.64 418.9 L255.56 418.9 L254.48 418.9 L253.4 418.9 L252.32 418.9 L251.24 418.9 L250.15 418.9 L249.07 418.9 L247.99 418.9 L246.91 418.9 L245.83 418.9 L244.75 418.9 L243.67 418.9 L242.59 418.9 L241.5 418.9 L240.42 418.9 L239.34 418.9 L238.26 418.9 L237.18 418.9 L236.1 418.9 L235.02 418.9 L233.94 418.9 L232.85 418.9 L231.77 418.9 L230.69 418.9 L229.61 418.9 L228.53 418.9 L227.45 418.9 L226.37 418.9 L225.28 418.9 L224.2 418.9 L223.12 418.9 L222.04 418.9 L220.96 418.9 L219.88 418.9 L218.8 418.9 L217.72 418.9 L216.63 418.9 L215.55 418.9 L214.47 418.9 L213.39 418.9 L212.31 418.9 L211.23 418.9 L210.15 418.9 L209.07 418.9 L207.98 418.9 L206.9 415.9 L205.82 408.46 L204.74 401.01 L203.66 393.56 L202.58 391.24 L201.5 389.46 L200.42 387.75 L199.33 386.11 L198.25 384.54 L197.17 383.02 L196.09 381.54 L195.01 380.11 L193.93 378.72 L192.85 377.36 L191.77 376.03 L190.68 374.73 L189.6 373.46 L188.52 372.21 L187.44 370.98 L186.36 369.78 L185.28 368.59 L184.2 367.42 L183.12 366.27 L182.03 365.13 L180.95 364.01 L179.87 362.9 L178.79 361.8 L177.71 360.71 L176.63 359.64 L175.55 358.57 L174.47 357.52 L173.38 356.47 L172.3 355.44 L171.22 354.41 L170.14 353.39 L169.06 352.37 L167.98 351.37 L166.9 350.37 L165.82 349.38 L164.73 348.39 L163.65 347.41 L162.57 346.43 L161.49 345.46 L160.41 344.5 L159.33 343.54 L158.25 342.58 L157.16 341.63 L156.08 340.69 L155 339.74 L153.92 338.8 L152.84 337.87 L151.76 336.94 L150.68 336.01 L149.6 335.09 L148.51 334.16 L147.43 333.25 L146.35 332.33 L145.27 331.42 L144.19 330.51 L143.11 329.6 L142.03 328.7 L140.95 327.79 L139.86 326.89 L138.78 326 L137.7 325.1 L136.62 324.21 L135.54 323.32 L134.46 322.43 L133.38 321.54 L132.3 320.65 L131.21 319.77 L130.13 318.89 L129.05 318.01 L127.97 317.13 L126.89 316.25 L125.81 315.37 L124.73 314.5 L123.65 313.63 L122.56 312.76 L121.48 311.89 L120.4 311.02 L119.32 310.15 L118.24 309.28 L117.16 308.42 L116.08 307.55 L115 306.69 L113.91 305.83 L112.83 304.96 L111.75 304.1 L110.67 303.24 L109.59 302.39 L108.51 301.53 L107.43 300.67 L106.35 299.81 L105.26 298.96 L104.18 298.11 L103.1 297.25 L102.02 296.4 L100.94 295.55 L99.86 294.7 L98.78 293.84 L97.69 292.99 L96.61 292.14 L95.53 291.3 L94.45 290.45 L93.37 289.6 L92.29 288.75 L91.21 287.91 L90.13 287.06 L89.04 286.21 L87.96 285.37 L86.88 284.52 L85.8 283.68 L84.72 282.84 L83.64 281.99 L82.56 281.15 L81.48 280.31 L80.39 279.47 L79.31 278.62 L78.23 277.78 L77.15 276.94 L76.07 276.1 L74.99 275.26 L73.91 274.42 L72.83 273.58 L71.74 272.74 L70.66 271.91 L69.58 271.07 L68.5 270.23 L67.42 269.39 L66.34 268.55 L65.26 267.72 L64.18 266.88 L63.09 266.04 L62.01 265.21 L60.93 264.37 L59.85 263.53 L58.77 262.7 L57.69 261.86 L56.61 261.03 L55.53 260.19 L54.44 259.36 L53.36 258.52 L52.28 257.69 L51.2 256.85 L50.12 256.02 L49.04 255.18 L47.96 254.35 L46.88 253.52 L45.79 252.68 L44.71 251.85 L43.63 251.02 L42.55 250.18 L41.47 249.35 L40.39 248.52 L39.31 247.68 L38.23 246.85 L37.14 246.02 L36.06 245.19 L34.98 244.36 L33.9 243.52 Z" fill="#00000c" fill-opacity="0.147"/>
<path d="M65.5 233.1 V415.9 M111.5 233.1 V415.9 M157.5 233.1 V415.9 M203.5 233.1 V415.9 M250.5 233.1 V415.9 M296.5 233.1 V415.9 M342.5 233.1 V415.9 M34.9 380.5 H356.2 M34.9 345.5 H356.2 M34.9 310.5 H356.2 M34.9 275.5 H356.2 M34.9 240.5 H356.2" stroke="#d2d2d2" stroke-width="0.9" fill="none"/>
<path d="M65.5 233.1 V415.9 M111.5 233.1 V415.9 M157.5 233.1 V415.9 M203.5 233.1 V415.9 M250.5 233.1 V415.9 M296.5 233.1 V415.9 M342.5 233.1 V415.9 M34.9 380.5 H356.2 M34.9 345.5 H356.2 M34.9 310.5 H356.2 M34.9 275.5 H356.2 M34.9 240.5 H356.2" stroke="#606060" stroke-width="0.85" stroke-dasharray="1.25 1.0" fill="none"/>
<path d="M34.9 244.13 L356.2 490.07" stroke="#111" stroke-width="1.0" stroke-dasharray="3.0 1.3" fill="none"/>
<path d="M34.9 245.5 L49.9 256.21 L64.9 266.93 L79.9 277.86 L94.9 288.8 L100 292.52 L101.5 293.61 L103 294.7 L104.5 295.8 L106 296.89 L107.5 297.98 L109 299.08 L110.5 300.03 L112 301.41 L113.5 302.55 L115 304.01 L116.5 305.04 L118 306.55 L119.5 307.33 L121 308.9 L122.5 309.48 L124 311.07 L125.5 311.64 L127 313.22 L128.5 313.95 L130 315.48 L131.5 316.39 L133 317.81 L134.5 318.85 L136 320.2 L137.5 320.98 L139 322.19 L140.5 322.77 L142 324.11 L143.5 324.64 L145 326.07 L146.5 326.55 L148 327.9 L149.5 328.44 L151 329.71 L152.5 330.5 L154 331.49 L155.5 332.28 L157 333.23 L158.8 333.68 L158.8 334.39 L160.3 334.39 L160.3 335.13 L161.9 335.13 L161.9 335.92 L163.6 335.92 L163.6 336.74 L165.6 336.74 L165.6 337.61 L167.6 337.61 L167.6 338.54 L172.6 338.54 L172.6 339.52 L173 339.52 L173 340.57 L173.2 340.57 L173.2 341.7 L173.4 341.7 L173.4 342.92 L173.6 342.92 L173.6 344.25 L185.6 344.25 L185.6 345.7 L186 345.7 L186 347.31 L191 347.31 L191 349.1 L191.6 349.1 L191.6 351.14 L196.9 351.14 L196.9 353.49 L198.2 353.49 L198.2 356.27 L199.6 356.27 L199.6 359.67 L204.1 359.67 L204.1 364.05 L227.6 364.05 L227.6 370.23 L245.9 370.23 L245.9 380.8 L278.4 380.8" stroke="#000" stroke-width="1.6" fill="none" stroke-linejoin="miter" stroke-linecap="butt"/>
</g>
<path d="M40.79 415.9 v1.5 M46.58 415.9 v1.5 M51.06 415.9 v1.5 M54.73 415.9 v1.5 M57.83 415.9 v1.5 M60.51 415.9 v1.5 M62.88 415.9 v1.5 M65 415.9 v2.8 M78.94 415.9 v1.5 M87.09 415.9 v1.5 M92.88 415.9 v1.5 M97.36 415.9 v1.5 M101.03 415.9 v1.5 M104.13 415.9 v1.5 M106.81 415.9 v1.5 M109.18 415.9 v1.5 M111.3 415.9 v2.8 M125.24 415.9 v1.5 M133.39 415.9 v1.5 M139.18 415.9 v1.5 M143.66 415.9 v1.5 M147.33 415.9 v1.5 M150.43 415.9 v1.5 M153.11 415.9 v1.5 M155.48 415.9 v1.5 M157.6 415.9 v2.8 M171.54 415.9 v1.5 M179.69 415.9 v1.5 M185.48 415.9 v1.5 M189.96 415.9 v1.5 M193.63 415.9 v1.5 M196.73 415.9 v1.5 M199.41 415.9 v1.5 M201.78 415.9 v1.5 M203.9 415.9 v2.8 M217.84 415.9 v1.5 M225.99 415.9 v1.5 M231.78 415.9 v1.5 M236.26 415.9 v1.5 M239.93 415.9 v1.5 M243.03 415.9 v1.5 M245.71 415.9 v1.5 M248.08 415.9 v1.5 M250.2 415.9 v2.8 M264.14 415.9 v1.5 M272.29 415.9 v1.5 M278.08 415.9 v1.5 M282.56 415.9 v1.5 M286.23 415.9 v1.5 M289.33 415.9 v1.5 M292.01 415.9 v1.5 M294.38 415.9 v1.5 M296.5 415.9 v2.8 M310.44 415.9 v1.5 M318.59 415.9 v1.5 M324.38 415.9 v1.5 M328.86 415.9 v1.5 M332.53 415.9 v1.5 M335.63 415.9 v1.5 M338.31 415.9 v1.5 M340.68 415.9 v1.5 M342.8 415.9 v2.8 M34.9 415.9 h-2.8 M34.9 405.33 h-1.5 M34.9 399.15 h-1.5 M34.9 394.77 h-1.5 M34.9 391.37 h-1.5 M34.9 388.59 h-1.5 M34.9 386.24 h-1.5 M34.9 384.2 h-1.5 M34.9 382.41 h-1.5 M34.9 380.8 h-2.8 M34.9 370.23 h-1.5 M34.9 364.05 h-1.5 M34.9 359.67 h-1.5 M34.9 356.27 h-1.5 M34.9 353.49 h-1.5 M34.9 351.14 h-1.5 M34.9 349.1 h-1.5 M34.9 347.31 h-1.5 M34.9 345.7 h-2.8 M34.9 335.13 h-1.5 M34.9 328.95 h-1.5 M34.9 324.57 h-1.5 M34.9 321.17 h-1.5 M34.9 318.39 h-1.5 M34.9 316.04 h-1.5 M34.9 314 h-1.5 M34.9 312.21 h-1.5 M34.9 310.6 h-2.8 M34.9 300.03 h-1.5 M34.9 293.85 h-1.5 M34.9 289.47 h-1.5 M34.9 286.07 h-1.5 M34.9 283.29 h-1.5 M34.9 280.94 h-1.5 M34.9 278.9 h-1.5 M34.9 277.11 h-1.5 M34.9 275.5 h-2.8 M34.9 264.93 h-1.5 M34.9 258.75 h-1.5 M34.9 254.37 h-1.5 M34.9 250.97 h-1.5 M34.9 248.19 h-1.5 M34.9 245.84 h-1.5 M34.9 243.8 h-1.5 M34.9 242.01 h-1.5 M34.9 240.4 h-2.8" stroke="#222" stroke-width="0.5" fill="none"/>
<rect x="34.9" y="233.1" width="321.3" height="182.8" fill="none" stroke="#333" stroke-width="0.8"/>
<g fill="#262626">
<text x="57" y="428.4" font-size="9.6" textLength="8.7" lengthAdjust="spacingAndGlyphs">10</text><text x="66.2" y="425" font-size="7.0" textLength="7.4" lengthAdjust="spacingAndGlyphs">−2</text>
<text x="103.3" y="428.4" font-size="9.6" textLength="8.7" lengthAdjust="spacingAndGlyphs">10</text><text x="112.5" y="425" font-size="7.0" textLength="7.4" lengthAdjust="spacingAndGlyphs">−1</text>
<text x="151.65" y="428.4" font-size="9.6" textLength="8.7" lengthAdjust="spacingAndGlyphs">10</text><text x="160.85" y="425" font-size="7.0" textLength="3.3" lengthAdjust="spacingAndGlyphs">0</text>
<text x="197.95" y="428.4" font-size="9.6" textLength="8.7" lengthAdjust="spacingAndGlyphs">10</text><text x="207.15" y="425" font-size="7.0" textLength="3.3" lengthAdjust="spacingAndGlyphs">1</text>
<text x="244.25" y="428.4" font-size="9.6" textLength="8.7" lengthAdjust="spacingAndGlyphs">10</text><text x="253.45" y="425" font-size="7.0" textLength="3.3" lengthAdjust="spacingAndGlyphs">2</text>
<text x="290.55" y="428.4" font-size="9.6" textLength="8.7" lengthAdjust="spacingAndGlyphs">10</text><text x="299.75" y="425" font-size="7.0" textLength="3.3" lengthAdjust="spacingAndGlyphs">3</text>
<text x="336.85" y="428.4" font-size="9.6" textLength="8.7" lengthAdjust="spacingAndGlyphs">10</text><text x="346.05" y="425" font-size="7.0" textLength="3.3" lengthAdjust="spacingAndGlyphs">4</text>
<text x="12.4" y="418.9" font-size="9.6" textLength="8.7" lengthAdjust="spacingAndGlyphs">10</text><text x="21.6" y="415.5" font-size="7.0" textLength="7.4" lengthAdjust="spacingAndGlyphs">−1</text>
<text x="16.5" y="383.8" font-size="9.6" textLength="8.7" lengthAdjust="spacingAndGlyphs">10</text><text x="25.7" y="380.4" font-size="7.0" textLength="3.3" lengthAdjust="spacingAndGlyphs">0</text>
<text x="16.5" y="348.7" font-size="9.6" textLength="8.7" lengthAdjust="spacingAndGlyphs">10</text><text x="25.7" y="345.3" font-size="7.0" textLength="3.3" lengthAdjust="spacingAndGlyphs">1</text>
<text x="16.5" y="313.6" font-size="9.6" textLength="8.7" lengthAdjust="spacingAndGlyphs">10</text><text x="25.7" y="310.2" font-size="7.0" textLength="3.3" lengthAdjust="spacingAndGlyphs">2</text>
<text x="16.5" y="278.5" font-size="9.6" textLength="8.7" lengthAdjust="spacingAndGlyphs">10</text><text x="25.7" y="275.1" font-size="7.0" textLength="3.3" lengthAdjust="spacingAndGlyphs">3</text>
<text x="16.5" y="243.4" font-size="9.6" textLength="8.7" lengthAdjust="spacingAndGlyphs">10</text><text x="25.7" y="240" font-size="7.0" textLength="3.3" lengthAdjust="spacingAndGlyphs">4</text>
<text x="195.55" y="440.1" text-anchor="middle" font-size="10" textLength="119.6" lengthAdjust="spacingAndGlyphs">Inverse False-Alarm Rate (yr)</text>
<text transform="translate(7.2 324.5) rotate(-90)" text-anchor="middle" font-size="10" textLength="123.5" lengthAdjust="spacingAndGlyphs">Cumulative Number of Events</text>
</g>
<rect x="250.6" y="237.2" width="101.8" height="59.8" rx="1.2" fill="#fff" fill-opacity="0.88" stroke="#d4d4d4" stroke-width="0.5"/>
<path d="M253.4 243.6 H269.8" stroke="#000" stroke-width="1.6"/>
<path d="M253.4 255.2 H269.8" stroke="#111" stroke-width="1.0" stroke-dasharray="3.0 1.3"/>
<rect x="253.9" y="264.05" width="15.4" height="5.5" fill="#a9a9ad"/>
<rect x="253.9" y="275.65" width="15.4" height="5.5" fill="#c6c6c8"/>
<rect x="253.9" y="287.25" width="15.4" height="5.5" fill="#dedede"/>
<g fill="#262626" font-size="8.4">
<text x="275.7" y="246.5" textLength="31" lengthAdjust="spacingAndGlyphs">Observed</text>
<text x="275.7" y="258.1" textLength="73.6" lengthAdjust="spacingAndGlyphs">Expected background</text>
<text x="275.7" y="269.7" textLength="10.2" lengthAdjust="spacingAndGlyphs">±<tspan font-style="italic">σ</tspan></text>
<text x="275.7" y="281.3" textLength="15.2" lengthAdjust="spacingAndGlyphs">±2<tspan font-style="italic">σ</tspan></text>
<text x="275.7" y="292.9" textLength="15.2" lengthAdjust="spacingAndGlyphs">±3<tspan font-style="italic">σ</tspan></text>
</g>
</svg>
</body></html>
